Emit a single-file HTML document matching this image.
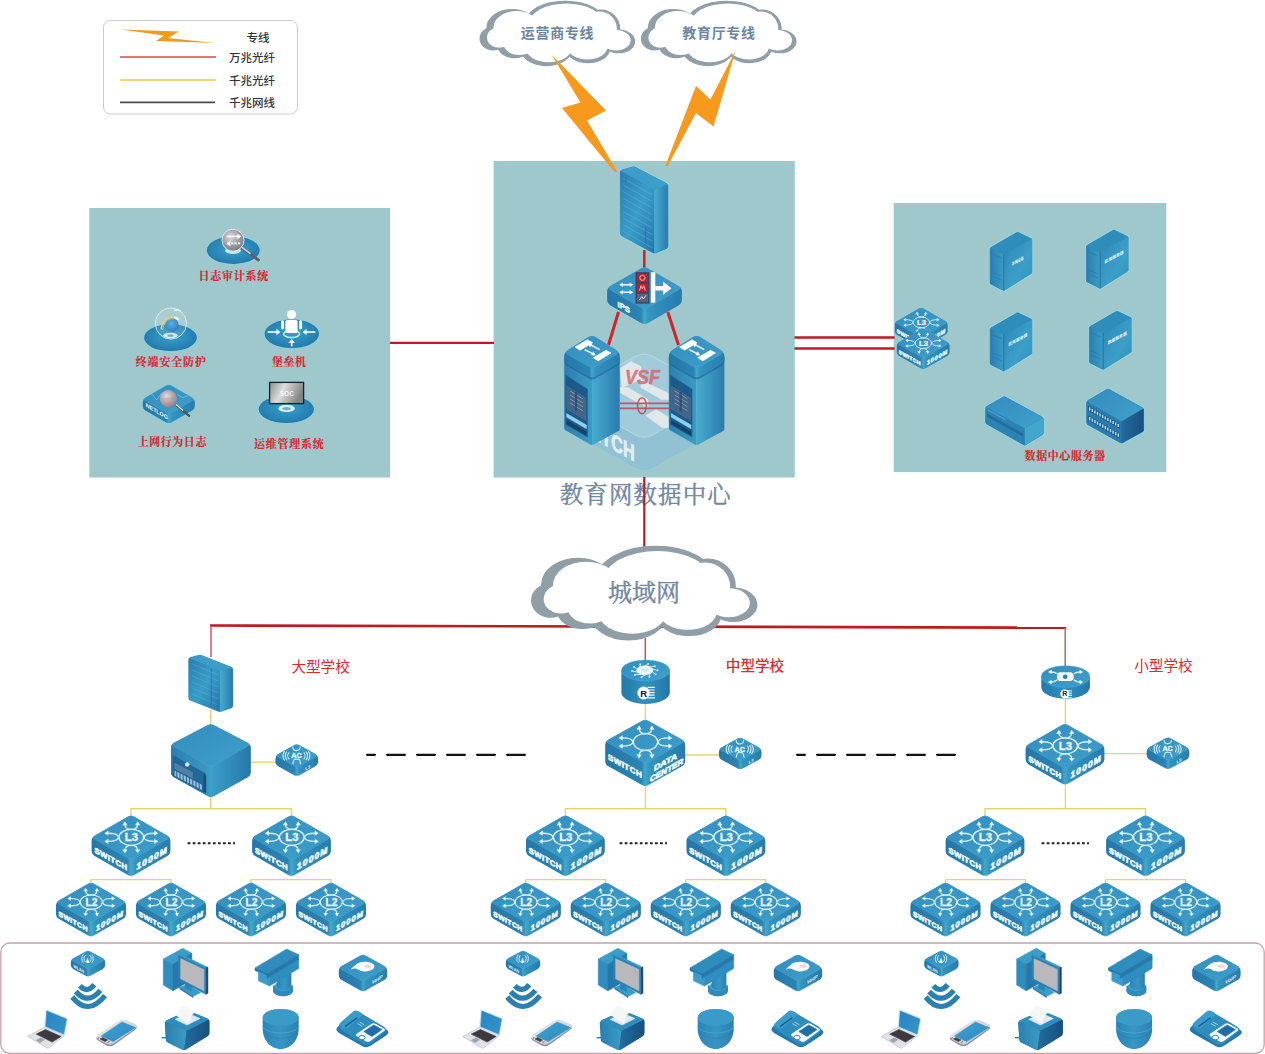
<!DOCTYPE html>
<html lang="zh-CN"><head><meta charset="utf-8"><title>教育网数据中心网络拓扑</title>
<style>html,body{margin:0;padding:0;background:#fff}svg{display:block;font-family:'Liberation Sans', 'Noto Sans CJK SC', sans-serif}.sf{font-family:'Liberation Serif', 'Noto Serif CJK SC', serif;font-weight:bold;fill:#d6242c;stroke:#d6242c;stroke-width:0.18px}.sr{font-family:'Liberation Serif', 'Noto Serif CJK SC', serif;stroke:#71879f;stroke-width:0.4px}</style></head>
<body>
<svg width="1265" height="1054" viewBox="0 0 1265 1054">
<defs><linearGradient id="gs" x1="0" x2="1" y1="0" y2="0"><stop offset="0" stop-color="#2577a8"/><stop offset="0.45" stop-color="#2b84b3"/><stop offset="0.5" stop-color="#43a8cd"/><stop offset="0.56" stop-color="#3393bf"/><stop offset="1" stop-color="#277cad"/></linearGradient><linearGradient id="gt" x1="0" x2="1" y1="0" y2="1"><stop offset="0" stop-color="#338dbf"/><stop offset="1" stop-color="#3f9fca"/></linearGradient><linearGradient id="gl" x1="0" x2="1" y1="0" y2="0"><stop offset="0" stop-color="#2b7eae"/><stop offset="1" stop-color="#3a9cc5"/></linearGradient><linearGradient id="gr" x1="0" x2="1" y1="0" y2="0"><stop offset="0" stop-color="#48abcf"/><stop offset="1" stop-color="#2a7cae"/></linearGradient><linearGradient id="gd" x1="0" x2="1" y1="0" y2="0"><stop offset="0" stop-color="#236c9f"/><stop offset="1" stop-color="#17507f"/></linearGradient><linearGradient id="gf" x1="0" x2="0" y1="0" y2="1"><stop offset="0" stop-color="#2d83b4"/><stop offset="0.5" stop-color="#3a9bc6"/><stop offset="1" stop-color="#2a7db0"/></linearGradient><radialGradient id="ge" cx="0.5" cy="0.45" r="0.6"><stop offset="0" stop-color="#3aa0c8"/><stop offset="0.6" stop-color="#2a88b8"/><stop offset="1" stop-color="#2076a8"/></radialGradient><radialGradient id="gm" cx="0.4" cy="0.35" r="0.7"><stop offset="0" stop-color="#d8d8dc"/><stop offset="0.6" stop-color="#9a9aa2"/><stop offset="1" stop-color="#77777f"/></radialGradient><linearGradient id="gr2" x1="0" x2="1" y1="0" y2="1"><stop offset="0" stop-color="#2c86b6"/><stop offset="0.6" stop-color="#3c9fc8"/><stop offset="1" stop-color="#2f8fbd"/></linearGradient><linearGradient id="gr3" x1="0" x2="1" y1="0" y2="0"><stop offset="0" stop-color="#3b9fc8"/><stop offset="1" stop-color="#2678aa"/></linearGradient><linearGradient id="gfw" x1="0" x2="1" y1="0" y2="1"><stop offset="0" stop-color="#2a7db0"/><stop offset="0.5" stop-color="#3a9cc8"/><stop offset="1" stop-color="#2578ac"/></linearGradient><linearGradient id="gcy" x1="0" x2="1" y1="0" y2="0"><stop offset="0" stop-color="#2478aa"/><stop offset="0.5" stop-color="#3092c0"/><stop offset="1" stop-color="#2377a9"/></linearGradient><radialGradient id="ggl" cx="0.45" cy="0.4" r="0.6"><stop offset="0" stop-color="#4aa6e0"/><stop offset="1" stop-color="#1f6fb8"/></radialGradient><radialGradient id="gm2" cx="0.4" cy="0.35" r="0.7"><stop offset="0" stop-color="#ded8dc"/><stop offset="0.6" stop-color="#b09ea4"/><stop offset="1" stop-color="#8a8088"/></radialGradient><linearGradient id="gsc" x1="0" x2="1" y1="0" y2="0.3"><stop offset="0" stop-color="#8c8c8c"/><stop offset="0.45" stop-color="#dedede"/><stop offset="0.6" stop-color="#c4c4c4"/><stop offset="1" stop-color="#858585"/></linearGradient><linearGradient id="gsv" x1="0" x2="1" y1="0" y2="1"><stop offset="0" stop-color="#f2f2f2"/><stop offset="1" stop-color="#b9bcc0"/></linearGradient><linearGradient id="gph" x1="0" x2="1" y1="0" y2="1"><stop offset="0" stop-color="#3aa0d2"/><stop offset="1" stop-color="#2f8cc2"/></linearGradient><linearGradient id="gph2" x1="0" x2="1" y1="0" y2="1"><stop offset="0" stop-color="#2a84be"/><stop offset="1" stop-color="#3494cc"/></linearGradient><linearGradient id="gdm" x1="0" x2="1" y1="0" y2="0"><stop offset="0" stop-color="#2a84b6"/><stop offset="0.5" stop-color="#3796c4"/><stop offset="1" stop-color="#2a80b2"/></linearGradient></defs>
<rect width="1265" height="1054" fill="#fff"/>
<rect x="89.3" y="208" width="300.7" height="269.5" fill="#9fc8cd"/><rect x="493.6" y="161" width="301.2" height="316.5" fill="#9fc8cd"/><rect x="893.7" y="203" width="272.6" height="269.1" fill="#9fc8cd"/><rect x="103.5" y="20.5" width="194" height="93.5" rx="7" fill="#fff" stroke="#c9ccce" stroke-width="1"/><polygon points="121,29.5 179,31.5 168,38 215,43 156,41 164,35.5" fill="#f39a1e"/><line x1="120" y1="57" x2="216" y2="57" stroke="#e0444c" stroke-width="1.6"/><line x1="120" y1="80" x2="216" y2="80" stroke="#efd27a" stroke-width="1.8"/><line x1="120" y1="102.3" x2="215" y2="102.3" stroke="#4a4a4a" stroke-width="1.8"/><text x="258" y="41.5" font-size="11.5" fill="#333" font-weight="500" text-anchor="middle">专线</text><text x="252" y="62" font-size="11.5" fill="#333" font-weight="500" text-anchor="middle">万兆光纤</text><text x="252" y="84.5" font-size="11.5" fill="#333" font-weight="500" text-anchor="middle">千兆光纤</text><text x="252" y="107" font-size="11.5" fill="#333" font-weight="500" text-anchor="middle">千兆网线</text><g stroke="#c01a20" fill="none"><line x1="390" y1="342.8" x2="494" y2="342.8" stroke-width="2.3"/><line x1="794.5" y1="337.5" x2="894.6" y2="337.5" stroke-width="2.3"/><line x1="794.5" y1="348.5" x2="894.6" y2="348.5" stroke-width="2.3"/><line x1="644.3" y1="250" x2="644.3" y2="270" stroke-width="2.6" stroke="#d3222a"/><line x1="618.5" y1="312" x2="608.5" y2="345" stroke-width="3" stroke="#d3222a"/><line x1="667.8" y1="312" x2="678.5" y2="345" stroke-width="3" stroke="#d3222a"/><line x1="210" y1="625.5" x2="1066.2" y2="627.7" stroke-width="2.7"/><line x1="211" y1="626" x2="211" y2="657" stroke-width="1.5" stroke="#d2566a"/><line x1="1065.2" y1="628" x2="1065.2" y2="668" stroke-width="1.5" stroke="#b06a6c"/><line x1="645.3" y1="638" x2="645.3" y2="662" stroke-width="1.5" stroke="#cf4a55"/></g>
<g transform="translate(480.1,1.3) scale(0.99,0.98)"><g fill="#8f9ea7" stroke="#8f9ea7" stroke-width="1.2"><ellipse cx="13" cy="38" rx="13" ry="11.5"/><ellipse cx="32" cy="27" rx="25" ry="18.5"/><ellipse cx="86" cy="22" rx="40" ry="22"/><ellipse cx="122" cy="28" rx="19" ry="19"/><ellipse cx="140" cy="41" rx="16" ry="11.5"/><ellipse cx="109" cy="48" rx="22" ry="14.5"/><ellipse cx="67" cy="48" rx="26" ry="17.6"/><ellipse cx="35" cy="45" rx="17" ry="12.5"/><ellipse cx="78" cy="33" rx="55" ry="22"/></g><g transform="translate(7,2.2) scale(0.93,0.915)" fill="#fff"><ellipse cx="13" cy="38" rx="13" ry="11.5"/><ellipse cx="32" cy="27" rx="25" ry="18.5"/><ellipse cx="86" cy="22" rx="40" ry="22"/><ellipse cx="122" cy="28" rx="19" ry="19"/><ellipse cx="140" cy="41" rx="16" ry="11.5"/><ellipse cx="109" cy="48" rx="22" ry="14.5"/><ellipse cx="67" cy="48" rx="26" ry="17.6"/><ellipse cx="35" cy="45" rx="17" ry="12.5"/><ellipse cx="78" cy="33" rx="55" ry="22"/></g></g><text x="557.6" y="38.3" font-size="13.9" fill="#6b84a3" font-weight="700" text-anchor="middle" letter-spacing="0.8">运营商专线</text>
<g transform="translate(641.5,1.3) scale(0.99,0.98)"><g fill="#8f9ea7" stroke="#8f9ea7" stroke-width="1.2"><ellipse cx="13" cy="38" rx="13" ry="11.5"/><ellipse cx="32" cy="27" rx="25" ry="18.5"/><ellipse cx="86" cy="22" rx="40" ry="22"/><ellipse cx="122" cy="28" rx="19" ry="19"/><ellipse cx="140" cy="41" rx="16" ry="11.5"/><ellipse cx="109" cy="48" rx="22" ry="14.5"/><ellipse cx="67" cy="48" rx="26" ry="17.6"/><ellipse cx="35" cy="45" rx="17" ry="12.5"/><ellipse cx="78" cy="33" rx="55" ry="22"/></g><g transform="translate(7,2.2) scale(0.93,0.915)" fill="#fff"><ellipse cx="13" cy="38" rx="13" ry="11.5"/><ellipse cx="32" cy="27" rx="25" ry="18.5"/><ellipse cx="86" cy="22" rx="40" ry="22"/><ellipse cx="122" cy="28" rx="19" ry="19"/><ellipse cx="140" cy="41" rx="16" ry="11.5"/><ellipse cx="109" cy="48" rx="22" ry="14.5"/><ellipse cx="67" cy="48" rx="26" ry="17.6"/><ellipse cx="35" cy="45" rx="17" ry="12.5"/><ellipse cx="78" cy="33" rx="55" ry="22"/></g></g><text x="719" y="38.3" font-size="13.9" fill="#6b84a3" font-weight="700" text-anchor="middle" letter-spacing="0.8">教育厅专线</text>
<polygon points="551.5,54.5 606,110.5 587,120.5 617.5,172 614.5,172 562,108 580.5,102.5" fill="#f7991c"/><polygon points="735.5,51 713.5,126.5 696,113 667.5,166.5 665.5,165.5 696,86 710.5,99.5" fill="#f7991c"/>
<text class="sr" x="645.2" y="503" font-size="23.4" fill="#71879f" text-anchor="middle" textLength="171" lengthAdjust="spacing">教育网数据中心</text>
<line x1="644.3" y1="477" x2="644.3" y2="550" stroke="#c01a20" stroke-width="2.2"/><g transform="translate(531.9,546.5) scale(1.44,1.42)"><g fill="#8f9ea7" stroke="#8f9ea7" stroke-width="1.2"><ellipse cx="13" cy="38" rx="13" ry="11.5"/><ellipse cx="32" cy="27" rx="25" ry="18.5"/><ellipse cx="86" cy="22" rx="40" ry="22"/><ellipse cx="122" cy="28" rx="19" ry="19"/><ellipse cx="140" cy="41" rx="16" ry="11.5"/><ellipse cx="109" cy="48" rx="22" ry="14.5"/><ellipse cx="67" cy="48" rx="26" ry="17.6"/><ellipse cx="35" cy="45" rx="17" ry="12.5"/><ellipse cx="78" cy="33" rx="55" ry="22"/></g><g transform="translate(8.2,3.2) scale(0.918,0.888)" fill="#fff"><ellipse cx="13" cy="38" rx="13" ry="11.5"/><ellipse cx="32" cy="27" rx="25" ry="18.5"/><ellipse cx="86" cy="22" rx="40" ry="22"/><ellipse cx="122" cy="28" rx="19" ry="19"/><ellipse cx="140" cy="41" rx="16" ry="11.5"/><ellipse cx="109" cy="48" rx="22" ry="14.5"/><ellipse cx="67" cy="48" rx="26" ry="17.6"/><ellipse cx="35" cy="45" rx="17" ry="12.5"/><ellipse cx="78" cy="33" rx="55" ry="22"/></g></g><text x="643.9" y="601" font-size="24" fill="#71879f" font-weight="400" text-anchor="middle" letter-spacing="0" class="sr">城域网</text>
<g transform="translate(644,351.6)"><path d="M-8.74,4.87Q0,0 8.74,4.87L70.26,39.13Q79,44 79,54L79,67Q79,77 70.26,81.87L8.74,116.13Q0,121 -8.74,116.13L-70.26,81.87Q-79,77 -79,67L-79,54Q-79,44 -70.26,39.13Z" fill="#7fb9dc" opacity="0.42"/><path d="M-8.74,4.87Q0,0 8.74,4.87L70.26,39.13Q79,44 70.26,48.87L8.74,83.13Q0,88 -8.74,83.13L-70.26,48.87Q-79,44 -70.26,39.13Z" fill="#b9d9e8" stroke="#dcedf3" stroke-width="1.2" opacity="0.42"/><g fill="#fbf3f1" opacity="0.72"><polygon points="-24,17 -13,10 -3,15 -3,28 -22,36" fill="#fbf3f1" stroke="#fbf3f1" stroke-width="0.6" stroke-linejoin="round"/><polygon points="-3,28 4,32 25,42 25,48 18,48 -3,36" fill="#fbf3f1" stroke="#fbf3f1" stroke-width="0.6" stroke-linejoin="round"/><polygon points="-24,36 -16,36 4,48 4,56 -4,52 -24,41" fill="#fbf3f1" stroke="#fbf3f1" stroke-width="0.6" stroke-linejoin="round"/><polygon points="2,64 12,58 25,66 25,76 18,76" fill="#fbf3f1" stroke="#fbf3f1" stroke-width="0.6" stroke-linejoin="round"/></g></g><text transform="translate(570.8,426.3) skewY(29)" font-size="23" font-weight="bold" fill="#f4f8fa" stroke="#f4f8fa" stroke-width="0.8" opacity="0.82" textLength="63.8" lengthAdjust="spacingAndGlyphs">SWITCH</text><text x="642.4" y="383.8" font-size="20.5" font-weight="bold" font-style="italic" fill="#d9666f" stroke="#d9666f" stroke-width="0.5" opacity="0.85" text-anchor="middle" textLength="35" lengthAdjust="spacingAndGlyphs">VSF</text><g stroke="#bb4f5b" fill="none" opacity="0.9"><line x1="620" y1="403.3" x2="669" y2="403.3" stroke-width="1.8"/><line x1="620" y1="408.3" x2="669" y2="408.3" stroke-width="1.8"/><ellipse cx="642" cy="405.8" rx="4.4" ry="8" stroke-width="1.6"/></g>
<g transform="translate(620.3,166.5)"><path d="M0,5Q0,4 0.96,3.72L12.74,0.28Q13.7,0 14.59,0.46L46.71,17.24Q47.6,17.7 47.6,18.7L47.6,80.4Q47.6,81.4 46.67,81.78L34.83,86.62Q33.9,87 33.02,86.52L0.88,68.98Q0,68.5 0,67.5Z" fill="none" stroke="#8fdcee" stroke-width="3" stroke-opacity="0.5" stroke-linejoin="round"/><path d="M0,6Q0,4 1.92,3.44L11.78,0.56Q13.7,0 15.47,0.93L45.83,16.77Q47.6,17.7 47.6,19.7L47.6,79.4Q47.6,81.4 45.75,82.16L35.75,86.24Q33.9,87 32.14,86.04L1.76,69.46Q0,68.5 0,66.5Z" fill="url(#gfw)" stroke="url(#gfw)" stroke-width="0.7"/><path d="M0,5Q0,4 0.87,4.49L33.03,22.81Q33.9,23.3 33.9,24.3L33.9,86Q33.9,87 33.02,86.52L0.88,68.98Q0,68.5 0,67.5Z" fill="url(#gfw)"/><path d="M33.9,24.3Q33.9,23.3 34.83,22.92L46.67,18.08Q47.6,17.7 47.6,18.7L47.6,80.4Q47.6,81.4 46.67,81.78L34.83,86.62Q33.9,87 33.9,86Z" fill="url(#gr)"/><path d="M0.87,4.49Q0,4 0.96,3.72L12.74,0.28Q13.7,0 14.59,0.46L46.71,17.24Q47.6,17.7 46.67,18.08L34.83,22.92Q33.9,23.3 33.03,22.81Z" fill="#3b9dc8"/><g stroke="#5fb6d8" stroke-width="0.9" opacity="0.55"><line x1="3" y1="12" x2="31.5" y2="28.2"/><line x1="3" y1="18.6" x2="31.5" y2="34.8"/><line x1="3" y1="25.2" x2="31.5" y2="41.4"/><line x1="3" y1="31.8" x2="31.5" y2="48"/><line x1="3" y1="38.4" x2="31.5" y2="54.6"/><line x1="3" y1="45" x2="31.5" y2="61.2"/><line x1="3" y1="51.6" x2="31.5" y2="67.8"/><line x1="3" y1="58.2" x2="31.5" y2="74.4"/><line x1="3" y1="64.8" x2="31.5" y2="81"/></g><path d="M5.5,9 L5.5,15 M25.5,60 L25.5,78" stroke="#2474a6" stroke-width="1" opacity="0.8"/></g><g transform="translate(644.5,266.6)"><path d="M-3.47,1.99Q0,0 3.47,1.99L33.93,19.41Q37.4,21.4 37.4,25.4L37.4,33Q37.4,37 33.93,38.99L3.47,56.41Q0,58.4 -3.47,56.41L-33.93,38.99Q-37.4,37 -37.4,33L-37.4,25.4Q-37.4,21.4 -33.93,19.41Z" fill="url(#gs)"/><path d="M-3.47,1.99Q0,0 3.47,1.99L33.93,19.41Q37.4,21.4 33.93,23.39L3.47,40.81Q0,42.8 -3.47,40.81L-33.93,23.39Q-37.4,21.4 -33.93,19.41Z" fill="url(#gt)" stroke="#56b0d2" stroke-width="0.6" stroke-opacity="0.55"/><g stroke="#f4fafc" stroke-width="1.5" fill="#f4fafc"><line x1="-22.5" y1="18.2" x2="-14" y2="18.2"/><polygon points="-25.3,18.2 -21.6,16.0 -21.6,20.4" stroke="none"/><polygon points="-11.2,18.2 -14.9,16.0 -14.9,20.4" stroke="none"/><line x1="-22.5" y1="25.6" x2="-14" y2="25.6"/><polygon points="-25.3,25.6 -21.6,23.400000000000002 -21.6,27.8" stroke="none"/><polygon points="-11.2,25.6 -14.9,23.400000000000002 -14.9,27.8" stroke="none"/></g><rect x="-9" y="5.6" width="13.8" height="31.4" fill="#3a3f5c"/><rect x="-7.8" y="6.8" width="11.4" height="8.8" fill="#b5232e"/><rect x="-7.8" y="16.9" width="11.4" height="8.8" fill="#b5232e"/><rect x="-7.8" y="27" width="11.4" height="8.8" fill="#56607f"/><circle cx="-2.1" cy="11.2" r="2.6" fill="none" stroke="#f3b9bd" stroke-width="1"/><path d="M-5,24 L-3.4,19 L-2.1,22.4 L-0.8,19 L0.8,24" fill="none" stroke="#f3b9bd" stroke-width="1"/><path d="M-5.4,33.6 L-2.6,30 L-1.2,32.4 L1.6,28.6" fill="none" stroke="#e6ebf2" stroke-width="0.9"/><rect x="6.4" y="5.6" width="4.4" height="30.4" fill="#fbfdfe"/><polygon points="10.8,19.4 18.6,19.4 18.6,15 27,21.6 18.6,28.2 18.6,23.8 10.8,23.8" fill="#fbfdfe"/><text transform="translate(-27,39.8) skewY(29.5)" font-size="7.4" font-weight="bold" fill="#f4fafc" stroke="#f4fafc" stroke-width="0.4" textLength="12.5" lengthAdjust="spacingAndGlyphs">IPS</text></g><g transform="translate(592,334.9)"><path d="M-27.8,23.5Q-27.8,22 -26.54,22.82L-1.26,39.18Q0,40 0,41.5L0,109Q0,110.5 -1.3,109.75L-26.5,95.25Q-27.8,94.5 -27.8,93Z" fill="url(#gl)"/><path d="M0,41.5Q0,40 1.26,39.18L26.54,22.82Q27.8,22 27.8,23.5L27.8,94Q27.8,95.5 26.48,96.21L1.32,109.79Q0,110.5 0,109Z" fill="url(#gr)"/><polygon points="-26.2,40.5 -4.6,54.3 -4.6,102 -26.2,89.5" fill="#1d5a8c" stroke="#1d5a8c" stroke-width="0.6" stroke-linejoin="round"/><polygon points="-25,51.5 -6.4,63.2 -6.4,85 -25,74" fill="#6a7f99" stroke="#6a7f99" stroke-width="0.6" stroke-linejoin="round"/><polygon points="-25,51.5 -6.4,63.2 -6.4,85 -25,74" fill="#16446f" opacity="0.45"/><path d="M-22,56 L-9,64 M-22,60 L-9,68 M-22,64 L-9,72 M-22,68 L-9,76" stroke="#9fb6c9" stroke-width="0.9" opacity="0.7"/><path d="M-16,57 L-16,76" stroke="#173f66" stroke-width="2.2" opacity="0.6"/><polygon points="-25.4,78.6 -5.6,90.2 -5.6,93.8 -25.4,82.2" fill="#8fd0ee" stroke="#8fd0ee" stroke-width="0.6" stroke-linejoin="round"/><polygon points="-25.4,85 -5.6,96.6 -5.6,100.6 -25.4,89" fill="#153b63" opacity="0.8"/><path d="M-3.38,2.14Q0,0 3.38,2.14L24.42,15.46Q27.8,17.6 27.8,21.6L27.8,23.5Q27.8,27.5 24.34,29.5L3.46,41.6Q0,43.6 -3.46,41.6L-24.34,29.5Q-27.8,27.5 -27.8,23.5L-27.8,21.6Q-27.8,17.6 -24.42,15.46Z" fill="#1d6494" opacity="0.6" transform="translate(0,2)"/><path d="M-3.8,2.41Q0,0 3.8,2.41L24,15.19Q27.8,17.6 27.8,22.1L27.8,23Q27.8,27.5 23.91,29.76L3.89,41.34Q0,43.6 -3.89,41.34L-23.91,29.76Q-27.8,27.5 -27.8,23L-27.8,22.1Q-27.8,17.6 -24,15.19Z" fill="url(#gs)"/><path d="M-3.8,2.41Q0,0 3.8,2.41L24,15.19Q27.8,17.6 23.9,19.84L3.9,31.36Q0,33.6 -3.9,31.36L-23.9,19.84Q-27.8,17.6 -24,15.19Z" fill="url(#gt)" stroke="#56b0d2" stroke-width="0.6" stroke-opacity="0.5"/><polygon points="-17,12.2 -4.6,4.8 0.6,7.8 -12,15.4" fill="#fbfdfe" stroke="#fbfdfe" stroke-width="0.6" stroke-linejoin="round"/><polygon points="1.2,22.8 14,15.4 19,18 6.2,26" fill="#fbfdfe" stroke="#fbfdfe" stroke-width="0.6" stroke-linejoin="round"/><path d="M-1.2,10 L7.6,14.8 M-7.4,14.8 L0.6,18.8" fill="none" stroke="#fbfdfe" stroke-width="1.5"/><polygon points="3.6,20.6 -1,20.4 1.4,16.4" fill="#fbfdfe"/><polygon points="-4.2,8.4 0.4,8.6 -2,12.6" fill="#fbfdfe"/></g><g transform="translate(696.6,334.9)"><path d="M-27.8,23.5Q-27.8,22 -26.54,22.82L-1.26,39.18Q0,40 0,41.5L0,109Q0,110.5 -1.3,109.75L-26.5,95.25Q-27.8,94.5 -27.8,93Z" fill="url(#gl)"/><path d="M0,41.5Q0,40 1.26,39.18L26.54,22.82Q27.8,22 27.8,23.5L27.8,94Q27.8,95.5 26.48,96.21L1.32,109.79Q0,110.5 0,109Z" fill="url(#gr)"/><polygon points="-26.2,40.5 -4.6,54.3 -4.6,102 -26.2,89.5" fill="#1d5a8c" stroke="#1d5a8c" stroke-width="0.6" stroke-linejoin="round"/><polygon points="-25,51.5 -6.4,63.2 -6.4,85 -25,74" fill="#6a7f99" stroke="#6a7f99" stroke-width="0.6" stroke-linejoin="round"/><polygon points="-25,51.5 -6.4,63.2 -6.4,85 -25,74" fill="#16446f" opacity="0.45"/><path d="M-22,56 L-9,64 M-22,60 L-9,68 M-22,64 L-9,72 M-22,68 L-9,76" stroke="#9fb6c9" stroke-width="0.9" opacity="0.7"/><path d="M-16,57 L-16,76" stroke="#173f66" stroke-width="2.2" opacity="0.6"/><polygon points="-25.4,78.6 -5.6,90.2 -5.6,93.8 -25.4,82.2" fill="#8fd0ee" stroke="#8fd0ee" stroke-width="0.6" stroke-linejoin="round"/><polygon points="-25.4,85 -5.6,96.6 -5.6,100.6 -25.4,89" fill="#153b63" opacity="0.8"/><path d="M-3.38,2.14Q0,0 3.38,2.14L24.42,15.46Q27.8,17.6 27.8,21.6L27.8,23.5Q27.8,27.5 24.34,29.5L3.46,41.6Q0,43.6 -3.46,41.6L-24.34,29.5Q-27.8,27.5 -27.8,23.5L-27.8,21.6Q-27.8,17.6 -24.42,15.46Z" fill="#1d6494" opacity="0.6" transform="translate(0,2)"/><path d="M-3.8,2.41Q0,0 3.8,2.41L24,15.19Q27.8,17.6 27.8,22.1L27.8,23Q27.8,27.5 23.91,29.76L3.89,41.34Q0,43.6 -3.89,41.34L-23.91,29.76Q-27.8,27.5 -27.8,23L-27.8,22.1Q-27.8,17.6 -24,15.19Z" fill="url(#gs)"/><path d="M-3.8,2.41Q0,0 3.8,2.41L24,15.19Q27.8,17.6 23.9,19.84L3.9,31.36Q0,33.6 -3.9,31.36L-23.9,19.84Q-27.8,17.6 -24,15.19Z" fill="url(#gt)" stroke="#56b0d2" stroke-width="0.6" stroke-opacity="0.5"/><polygon points="-17,12.2 -4.6,4.8 0.6,7.8 -12,15.4" fill="#fbfdfe" stroke="#fbfdfe" stroke-width="0.6" stroke-linejoin="round"/><polygon points="1.2,22.8 14,15.4 19,18 6.2,26" fill="#fbfdfe" stroke="#fbfdfe" stroke-width="0.6" stroke-linejoin="round"/><path d="M-1.2,10 L7.6,14.8 M-7.4,14.8 L0.6,18.8" fill="none" stroke="#fbfdfe" stroke-width="1.5"/><polygon points="3.6,20.6 -1,20.4 1.4,16.4" fill="#fbfdfe"/><polygon points="-4.2,8.4 0.4,8.6 -2,12.6" fill="#fbfdfe"/></g>
<ellipse cx="233.3" cy="250.2" rx="27.4" ry="14.7" fill="#7fd3ea" opacity="0.5"/><ellipse cx="233.3" cy="250.2" rx="26.4" ry="13.7" fill="url(#ge)"/><ellipse cx="233" cy="250.6" rx="8" ry="3.4" fill="#b9ecf7"/><line x1="242" y1="248" x2="258.4" y2="260" stroke="#5a5f68" stroke-width="2.8" stroke-linecap="round"/><line x1="242" y1="247.4" x2="250" y2="253.4" stroke="#c9d4dc" stroke-width="1.6" stroke-linecap="round"/><circle cx="233" cy="240.2" r="11" fill="url(#gm)" stroke="#e8eef2" stroke-width="0.9"/><g stroke="#fbfdfe" stroke-width="1.6" fill="#fbfdfe"><line x1="226.6" y1="236.4" x2="237.6" y2="236.4"/><polygon points="241.4,236.4 237.4,233.6 237.4,239.2" stroke="none"/><line x1="231" y1="243.4" x2="240.4" y2="243.4" stroke-dasharray="2.2 1.3"/><polygon points="226.4,243.4 230.4,240.6 230.4,246.2" stroke="none"/></g><ellipse cx="170.5" cy="337.7" rx="27.4" ry="14.4" fill="#7fd3ea" opacity="0.5"/><ellipse cx="170.5" cy="337.7" rx="26.4" ry="13.4" fill="url(#ge)"/><ellipse cx="170.4" cy="335.6" rx="7.4" ry="2.8" fill="#d9f3fa" opacity="0.9"/><rect x="167.4" y="334.4" width="6" height="2.4" rx="1" fill="#6f9fb8"/><circle cx="172" cy="325" r="6.8" fill="url(#ggl)"/><path d="M161.4,329.6 C161.6,322 166,316.6 174.2,317.2" fill="none" stroke="#e9c766" stroke-width="1.6"/><path d="M162.8,330 C163,323.2 166.8,318.4 174,318.8" fill="none" stroke="#7fcf8a" stroke-width="1"/><path d="M174,317.4 C176,317.6 177.4,318.4 178.6,319.8" fill="none" stroke="#fff" stroke-width="2"/><circle cx="170.9" cy="323.5" r="15.6" fill="#fff" fill-opacity="0.1" stroke="#e4f3f8" stroke-width="0.8"/><path d="M174,310.4 C177,309.4 179.6,309.8 181,311.2" fill="none" stroke="#f4fafc" stroke-width="1.2"/><ellipse cx="291.8" cy="333.8" rx="28.2" ry="15.3" fill="#7fd3ea" opacity="0.5"/><ellipse cx="291.8" cy="333.8" rx="27.2" ry="14.3" fill="url(#ge)"/><ellipse cx="291.6" cy="334" rx="8" ry="3.6" fill="none" stroke="#b9ecf7" stroke-width="1.6"/><g fill="#fbfdfe"><circle cx="291.6" cy="314.6" r="4.6"/><rect x="285.4" y="320" width="12.2" height="13" rx="1.6"/><rect x="281.2" y="320.2" width="2.9" height="9.2" rx="1.4"/><rect x="299.2" y="320.2" width="2.9" height="9.2" rx="1.4"/></g><g stroke="#e9f8fd" stroke-width="1.7" fill="#e9f8fd"><line x1="267.6" y1="332" x2="277" y2="332"/><polygon points="280.4,332 276.4,328.8 276.4,335.2" stroke="none"/><line x1="315.4" y1="332" x2="306" y2="332"/><polygon points="302.6,332 306.6,328.8 306.6,335.2" stroke="none"/><line x1="291.7" y1="346.4" x2="291.7" y2="342.4"/><polygon points="291.7,339 288.4,343 295,343" stroke="none"/></g><g transform="translate(168.8,384.2)"><path d="M-3.47,0.98Q0,-1 3.47,0.98L23.53,12.42Q27,14.4 27,18.4L27,21.5Q27,25.5 23.53,27.49L3.47,39.01Q0,41 -3.47,39.01L-23.53,27.49Q-27,25.5 -27,21.5L-27,18.4Q-27,14.4 -23.53,12.42Z" fill="#7fd3ea" opacity="0.45"/><path d="M-3.03,1.75Q0,0 3.03,1.75L22.97,13.25Q26,15 26,18.5L26,21.2Q26,24.7 22.97,26.45L3.03,37.95Q0,39.7 -3.03,37.95L-22.97,26.45Q-26,24.7 -26,21.2L-26,18.5Q-26,15 -22.97,13.25Z" fill="url(#gs)"/><path d="M-3.03,1.75Q0,0 3.03,1.75L22.97,13.25Q26,15 22.97,16.75L3.03,28.25Q0,30 -3.03,28.25L-22.97,16.75Q-26,15 -22.97,13.25Z" fill="url(#gt)" stroke="#56b0d2" stroke-width="0.6" stroke-opacity="0.55"/><path d="M-17,10 L-12,15.6 L-7.6,9.4 M8,10.2 L14,13.4 L19,11.4" fill="none" stroke="#8fd0e6" stroke-width="0.7" opacity="0.8"/><text transform="translate(-23,22.6) skewY(30)" font-size="5.6" font-weight="bold" fill="#f2f9fc" textLength="22" lengthAdjust="spacingAndGlyphs">NETLOG</text><line x1="8" y1="21.4" x2="20.4" y2="31.6" stroke="#4c525c" stroke-width="2.2" stroke-linecap="round"/><line x1="7.6" y1="20.6" x2="14" y2="26" stroke="#d8e2e8" stroke-width="1.3" stroke-linecap="round"/><circle cx="-0.4" cy="14.4" r="8.6" fill="url(#gm2)"/><path d="M-8.6,14.6 C-4,15.4 4,14.6 8,13.4" stroke="#a89aa0" stroke-width="0.6" fill="none"/></g><ellipse cx="286.3" cy="409.3" rx="28.6" ry="14.8" fill="#7fd3ea" opacity="0.5"/><ellipse cx="286.3" cy="409.3" rx="27.6" ry="13.8" fill="url(#ge)"/><ellipse cx="286.6" cy="408.4" rx="8.2" ry="3.6" fill="#d4f3fb"/><ellipse cx="286.6" cy="408.6" rx="4.4" ry="1.6" fill="#7fa9bd"/><rect x="269.6" y="382.4" width="34" height="21.2" fill="url(#gsc)" stroke="#16242f" stroke-width="1.3"/><text x="286.8" y="395.6" font-size="6.6" font-weight="bold" fill="#fbfbfb" text-anchor="middle" opacity="0.9">SOC</text>
<g class="sf"><text x="233.4" y="279.6" font-size="10.9" text-anchor="middle" textLength="69.6" lengthAdjust="spacing">日志审计系统</text><text x="170.8" y="365.8" font-size="10.9" text-anchor="middle" textLength="70" lengthAdjust="spacing">终端安全防护</text><text x="288.9" y="365.8" font-size="10.9" text-anchor="middle" textLength="33.8" lengthAdjust="spacing">堡垒机</text><text x="172" y="445.8" font-size="10.9" text-anchor="middle" textLength="68.6" lengthAdjust="spacing">上网行为日志</text><text x="288.8" y="447.8" font-size="10.9" text-anchor="middle" textLength="69.6" lengthAdjust="spacing">运维管理系统</text><text x="1064.8" y="459.6" font-size="10.9" text-anchor="middle" textLength="80.4" lengthAdjust="spacing">数据中心服务器</text></g>
<g transform="translate(921.2,307.4) scale(0.67)"><g><path d="M-3.12,1.79Q0,0 3.12,1.79L36.28,20.81Q39.4,22.6 39.4,26.2L39.4,35.6Q39.4,39.2 36.28,40.99L3.12,60.01Q0,61.8 -3.12,60.01L-36.28,40.99Q-39.4,39.2 -39.4,35.6L-39.4,26.2Q-39.4,22.6 -36.28,20.81Z" fill="url(#gs)"/><path d="M-3.12,1.79Q0,0 3.12,1.79L36.28,20.81Q39.4,22.6 36.28,24.39L3.12,43.41Q0,45.2 -3.12,43.41L-36.28,24.39Q-39.4,22.6 -36.28,20.81Z" fill="url(#gt)" stroke="#56b0d2" stroke-width="0.6" stroke-opacity="0.55"/><g fill="none" stroke="#dcf4fc" stroke-width="1.35" stroke-linecap="round"><ellipse cx="0.3" cy="22.4" rx="12.3" ry="8"/><path d="M-6.1,9 C-6.1,12.9 -3.2,14.4 0.3,14.4 C3.8,14.4 6.7,12.9 6.7,9"/><path d="M-6.1,35.8 C-6.1,31.9 -3.2,30.4 0.3,30.4 C3.8,30.4 6.7,31.9 6.7,35.8"/><path d="M-23.5,18.3 C-16,18.3 -12.5,20.2 -12.5,22.4 C-12.5,24.6 -16,26.5 -23.5,26.5"/><path d="M24.1,18.3 C16.6,18.3 13.1,20.2 13.1,22.4 C13.1,24.6 16.6,26.5 24.1,26.5"/></g><g fill="#e4f7fd"><polygon points="-6.1,6.4 -3.5,10.3 -8.7,10.3"/><polygon points="6.7,6.4 9.3,10.3 4.1,10.3"/><polygon points="-6.1,38.4 -8.7,34.5 -3.5,34.5"/><polygon points="6.7,38.4 4.1,34.5 9.3,34.5"/><polygon points="-26.6,18.3 -22.7,15.7 -22.7,20.9"/><polygon points="-26.6,26.5 -22.7,23.9 -22.7,29.1"/><polygon points="27.2,18.3 23.3,20.9 23.3,15.7"/><polygon points="27.2,26.5 23.3,29.1 23.3,23.9"/></g><g fill="#f2f9fc" stroke="#f2f9fc" stroke-width="0.65" font-weight="bold" font-size="7.7"><text transform="translate(-36.6,37.6) skewY(29.1)" textLength="32.6" lengthAdjust="spacing">SWITCH</text><text transform="translate(5.2,55) skewY(-29.1) skewX(-5)" font-size="8.6" textLength="30.6" lengthAdjust="spacing">1000M</text></g></g><text x="0.4" y="26.4" font-size="11.4" font-weight="bold" fill="#f2f9fc" stroke="#f2f9fc" stroke-width="0.3" text-anchor="middle">L3</text></g><g transform="translate(923.2,328.2) scale(0.67)"><g><path d="M-3.12,1.79Q0,0 3.12,1.79L36.28,20.81Q39.4,22.6 39.4,26.2L39.4,35.6Q39.4,39.2 36.28,40.99L3.12,60.01Q0,61.8 -3.12,60.01L-36.28,40.99Q-39.4,39.2 -39.4,35.6L-39.4,26.2Q-39.4,22.6 -36.28,20.81Z" fill="url(#gs)"/><path d="M-3.12,1.79Q0,0 3.12,1.79L36.28,20.81Q39.4,22.6 36.28,24.39L3.12,43.41Q0,45.2 -3.12,43.41L-36.28,24.39Q-39.4,22.6 -36.28,20.81Z" fill="url(#gt)" stroke="#56b0d2" stroke-width="0.6" stroke-opacity="0.55"/><g fill="none" stroke="#dcf4fc" stroke-width="1.35" stroke-linecap="round"><ellipse cx="0.3" cy="22.4" rx="12.3" ry="8"/><path d="M-6.1,9 C-6.1,12.9 -3.2,14.4 0.3,14.4 C3.8,14.4 6.7,12.9 6.7,9"/><path d="M-6.1,35.8 C-6.1,31.9 -3.2,30.4 0.3,30.4 C3.8,30.4 6.7,31.9 6.7,35.8"/><path d="M-23.5,18.3 C-16,18.3 -12.5,20.2 -12.5,22.4 C-12.5,24.6 -16,26.5 -23.5,26.5"/><path d="M24.1,18.3 C16.6,18.3 13.1,20.2 13.1,22.4 C13.1,24.6 16.6,26.5 24.1,26.5"/></g><g fill="#e4f7fd"><polygon points="-6.1,6.4 -3.5,10.3 -8.7,10.3"/><polygon points="6.7,6.4 9.3,10.3 4.1,10.3"/><polygon points="-6.1,38.4 -8.7,34.5 -3.5,34.5"/><polygon points="6.7,38.4 4.1,34.5 9.3,34.5"/><polygon points="-26.6,18.3 -22.7,15.7 -22.7,20.9"/><polygon points="-26.6,26.5 -22.7,23.9 -22.7,29.1"/><polygon points="27.2,18.3 23.3,20.9 23.3,15.7"/><polygon points="27.2,26.5 23.3,29.1 23.3,23.9"/></g><g fill="#f2f9fc" stroke="#f2f9fc" stroke-width="0.65" font-weight="bold" font-size="7.7"><text transform="translate(-36.6,37.6) skewY(29.1)" textLength="32.6" lengthAdjust="spacing">SWITCH</text><text transform="translate(5.2,55) skewY(-29.1) skewX(-5)" font-size="8.6" textLength="30.6" lengthAdjust="spacing">1000M</text></g></g><text x="0.4" y="26.4" font-size="11.4" font-weight="bold" fill="#f2f9fc" stroke="#f2f9fc" stroke-width="0.3" text-anchor="middle">L3</text></g><g transform="translate(990.2,232.1)"><g><path d="M0,16.9Q0,15.9 0.86,15.4L26.44,0.5Q27.3,0 28.2,0.43L40.8,6.47Q41.7,6.9 41.7,7.9L41.7,40Q41.7,41 40.85,41.53L14.45,57.97Q13.6,58.5 12.71,58.05L0.89,52.05Q0,51.6 0,50.6Z" fill="none" stroke="#8fdcee" stroke-width="3" stroke-opacity="0.5" stroke-linejoin="round"/><path d="M0,16.7Q0,15.9 0.69,15.5L26.61,0.4Q27.3,0 28.02,0.35L40.98,6.55Q41.7,6.9 41.7,7.7L41.7,40.2Q41.7,41 41.02,41.42L14.28,58.08Q13.6,58.5 12.89,58.14L0.71,51.96Q0,51.6 0,50.8Z" fill="url(#gl)" stroke="url(#gl)" stroke-width="0.7"/><path d="M0,16.3Q0,15.9 0.37,16.06L13.23,21.74Q13.6,21.9 13.6,22.3L13.6,58.1Q13.6,58.5 13.24,58.32L0.36,51.78Q0,51.6 0,51.2Z" fill="url(#gl)"/><path d="M13.6,22.3Q13.6,21.9 13.95,21.71L41.35,7.09Q41.7,6.9 41.7,7.3L41.7,40.6Q41.7,41 41.36,41.21L13.94,58.29Q13.6,58.5 13.6,58.1Z" fill="url(#gr2)"/><path d="M0.37,16.06Q0,15.9 0.35,15.7L26.95,0.2Q27.3,0 27.66,0.17L41.34,6.73Q41.7,6.9 41.35,7.09L13.95,21.71Q13.6,21.9 13.23,21.74Z" fill="#2f8dbb"/><line x1="13.6" y1="22" x2="13.6" y2="58" stroke="#1f6c9c" stroke-width="0.8"/><path d="M2,22 L11,26 M2,40 L11,44 M2,44 L11,48" stroke="#2576a6" stroke-width="0.8" opacity="0.7"/></g><text transform="translate(21.6,33.6) skewY(-28)" font-size="4.2" font-weight="bold" fill="#f4fafc" textLength="12" lengthAdjust="spacingAndGlyphs">存储设备</text></g><g transform="translate(1086.5,229.9)"><g><path d="M0,16.9Q0,15.9 0.86,15.4L26.44,0.5Q27.3,0 28.2,0.43L40.8,6.47Q41.7,6.9 41.7,7.9L41.7,40Q41.7,41 40.85,41.53L14.45,57.97Q13.6,58.5 12.71,58.05L0.89,52.05Q0,51.6 0,50.6Z" fill="none" stroke="#8fdcee" stroke-width="3" stroke-opacity="0.5" stroke-linejoin="round"/><path d="M0,16.7Q0,15.9 0.69,15.5L26.61,0.4Q27.3,0 28.02,0.35L40.98,6.55Q41.7,6.9 41.7,7.7L41.7,40.2Q41.7,41 41.02,41.42L14.28,58.08Q13.6,58.5 12.89,58.14L0.71,51.96Q0,51.6 0,50.8Z" fill="url(#gl)" stroke="url(#gl)" stroke-width="0.7"/><path d="M0,16.3Q0,15.9 0.37,16.06L13.23,21.74Q13.6,21.9 13.6,22.3L13.6,58.1Q13.6,58.5 13.24,58.32L0.36,51.78Q0,51.6 0,51.2Z" fill="url(#gl)"/><path d="M13.6,22.3Q13.6,21.9 13.95,21.71L41.35,7.09Q41.7,6.9 41.7,7.3L41.7,40.6Q41.7,41 41.36,41.21L13.94,58.29Q13.6,58.5 13.6,58.1Z" fill="url(#gr2)"/><path d="M0.37,16.06Q0,15.9 0.35,15.7L26.95,0.2Q27.3,0 27.66,0.17L41.34,6.73Q41.7,6.9 41.35,7.09L13.95,21.71Q13.6,21.9 13.23,21.74Z" fill="#2f8dbb"/><line x1="13.6" y1="22" x2="13.6" y2="58" stroke="#1f6c9c" stroke-width="0.8"/><path d="M2,22 L11,26 M2,40 L11,44 M2,44 L11,48" stroke="#2576a6" stroke-width="0.8" opacity="0.7"/></g><text transform="translate(18.1,33.6) skewY(-28)" font-size="4.2" font-weight="bold" fill="#f4fafc" textLength="19" lengthAdjust="spacingAndGlyphs">应用服务器</text></g><g transform="translate(990.2,312.6)"><g><path d="M0,16.9Q0,15.9 0.86,15.4L26.44,0.5Q27.3,0 28.2,0.43L40.8,6.47Q41.7,6.9 41.7,7.9L41.7,40Q41.7,41 40.85,41.53L14.45,57.97Q13.6,58.5 12.71,58.05L0.89,52.05Q0,51.6 0,50.6Z" fill="none" stroke="#8fdcee" stroke-width="3" stroke-opacity="0.5" stroke-linejoin="round"/><path d="M0,16.7Q0,15.9 0.69,15.5L26.61,0.4Q27.3,0 28.02,0.35L40.98,6.55Q41.7,6.9 41.7,7.7L41.7,40.2Q41.7,41 41.02,41.42L14.28,58.08Q13.6,58.5 12.89,58.14L0.71,51.96Q0,51.6 0,50.8Z" fill="url(#gl)" stroke="url(#gl)" stroke-width="0.7"/><path d="M0,16.3Q0,15.9 0.37,16.06L13.23,21.74Q13.6,21.9 13.6,22.3L13.6,58.1Q13.6,58.5 13.24,58.32L0.36,51.78Q0,51.6 0,51.2Z" fill="url(#gl)"/><path d="M13.6,22.3Q13.6,21.9 13.95,21.71L41.35,7.09Q41.7,6.9 41.7,7.3L41.7,40.6Q41.7,41 41.36,41.21L13.94,58.29Q13.6,58.5 13.6,58.1Z" fill="url(#gr2)"/><path d="M0.37,16.06Q0,15.9 0.35,15.7L26.95,0.2Q27.3,0 27.66,0.17L41.34,6.73Q41.7,6.9 41.35,7.09L13.95,21.71Q13.6,21.9 13.23,21.74Z" fill="#2f8dbb"/><line x1="13.6" y1="22" x2="13.6" y2="58" stroke="#1f6c9c" stroke-width="0.8"/><path d="M2,22 L11,26 M2,40 L11,44 M2,44 L11,48" stroke="#2576a6" stroke-width="0.8" opacity="0.7"/></g><text transform="translate(18.1,33.6) skewY(-28)" font-size="4.2" font-weight="bold" fill="#f4fafc" textLength="19" lengthAdjust="spacingAndGlyphs">应用服务器</text></g><g transform="translate(1089.6,311)"><g><path d="M0,16.9Q0,15.9 0.86,15.4L26.44,0.5Q27.3,0 28.2,0.43L40.8,6.47Q41.7,6.9 41.7,7.9L41.7,40Q41.7,41 40.85,41.53L14.45,57.97Q13.6,58.5 12.71,58.05L0.89,52.05Q0,51.6 0,50.6Z" fill="none" stroke="#8fdcee" stroke-width="3" stroke-opacity="0.5" stroke-linejoin="round"/><path d="M0,16.7Q0,15.9 0.69,15.5L26.61,0.4Q27.3,0 28.02,0.35L40.98,6.55Q41.7,6.9 41.7,7.7L41.7,40.2Q41.7,41 41.02,41.42L14.28,58.08Q13.6,58.5 12.89,58.14L0.71,51.96Q0,51.6 0,50.8Z" fill="url(#gl)" stroke="url(#gl)" stroke-width="0.7"/><path d="M0,16.3Q0,15.9 0.37,16.06L13.23,21.74Q13.6,21.9 13.6,22.3L13.6,58.1Q13.6,58.5 13.24,58.32L0.36,51.78Q0,51.6 0,51.2Z" fill="url(#gl)"/><path d="M13.6,22.3Q13.6,21.9 13.95,21.71L41.35,7.09Q41.7,6.9 41.7,7.3L41.7,40.6Q41.7,41 41.36,41.21L13.94,58.29Q13.6,58.5 13.6,58.1Z" fill="url(#gr2)"/><path d="M0.37,16.06Q0,15.9 0.35,15.7L26.95,0.2Q27.3,0 27.66,0.17L41.34,6.73Q41.7,6.9 41.35,7.09L13.95,21.71Q13.6,21.9 13.23,21.74Z" fill="#2f8dbb"/><line x1="13.6" y1="22" x2="13.6" y2="58" stroke="#1f6c9c" stroke-width="0.8"/><path d="M2,22 L11,26 M2,40 L11,44 M2,44 L11,48" stroke="#2576a6" stroke-width="0.8" opacity="0.7"/></g><text transform="translate(18.1,33.6) skewY(-28)" font-size="4.2" font-weight="bold" fill="#f4fafc" textLength="19" lengthAdjust="spacingAndGlyphs">数据服务器</text></g><g transform="translate(985.7,396.4)"><path d="M0,11.6Q0,10.6 0.87,10.1L17.63,0.5Q18.5,0 19.38,0.48L56.72,20.82Q57.6,21.3 57.6,22.3L57.6,36.6Q57.6,37.6 56.75,38.12L39.95,48.48Q39.1,49 38.23,48.51L0.87,27.49Q0,27 0,26Z" fill="none" stroke="#8fdcee" stroke-width="3" stroke-opacity="0.5" stroke-linejoin="round"/><path d="M0,12.1Q0,10.6 1.3,9.85L17.2,0.75Q18.5,0 19.82,0.72L56.28,20.58Q57.6,21.3 57.6,22.8L57.6,36.1Q57.6,37.6 56.32,38.39L40.38,48.21Q39.1,49 37.79,48.26L1.31,27.74Q0,27 0,25.5Z" fill="#2b82b3" stroke="#2b82b3" stroke-width="0.7"/><path d="M0,11.35Q0,10.6 0.66,10.96L38.44,31.64Q39.1,32 39.1,32.75L39.1,48.25Q39.1,49 38.45,48.63L0.65,27.37Q0,27 0,26.25Z" fill="#2b82b3"/><path d="M39.1,32.75Q39.1,32 39.75,31.62L56.95,21.68Q57.6,21.3 57.6,22.05L57.6,36.85Q57.6,37.6 56.96,37.99L39.74,48.61Q39.1,49 39.1,48.25Z" fill="#43a6cd"/><path d="M0.66,10.96Q0,10.6 0.65,10.23L17.85,0.37Q18.5,0 19.16,0.36L56.94,20.94Q57.6,21.3 56.95,21.68L39.75,31.62Q39.1,32 38.44,31.64Z" fill="url(#gt)"/><polygon points="1.4,17 37.6,37.2 37.6,40.4 1.4,20.2" fill="#1f6a9e" opacity="0.9"/><polygon points="2,12.6 20,22.6 20,24 2,14" fill="#4aa6cc" opacity="0.8"/></g><g transform="translate(1086.7,388.8)"><path d="M0,13.5Q0,12.5 0.86,11.99L20.44,0.51Q21.3,0 22.18,0.48L56.02,19.12Q56.9,19.6 56.9,20.6L56.9,41.4Q56.9,42.4 56.02,42.88L35.68,54.02Q34.8,54.5 33.93,54.01L0.87,35.69Q0,35.2 0,34.2Z" fill="none" stroke="#8fdcee" stroke-width="3" stroke-opacity="0.5" stroke-linejoin="round"/><path d="M0,14Q0,12.5 1.29,11.74L20.01,0.76Q21.3,0 22.61,0.72L55.59,18.88Q56.9,19.6 56.9,21.1L56.9,40.9Q56.9,42.4 55.58,43.12L36.12,53.78Q34.8,54.5 33.49,53.77L1.31,35.93Q0,35.2 0,33.7Z" fill="#2a7cae" stroke="#2a7cae" stroke-width="0.7"/><path d="M0,13.25Q0,12.5 0.65,12.87L34.15,32.13Q34.8,32.5 34.8,33.25L34.8,53.75Q34.8,54.5 34.14,54.14L0.66,35.56Q0,35.2 0,34.45Z" fill="#2a7cae"/><path d="M34.8,33.25Q34.8,32.5 35.45,32.12L56.25,19.98Q56.9,19.6 56.9,20.35L56.9,41.65Q56.9,42.4 56.24,42.76L35.46,54.14Q34.8,54.5 34.8,53.75Z" fill="url(#gd)"/><path d="M0.65,12.87Q0,12.5 0.65,12.12L20.65,0.38Q21.3,0 21.96,0.36L56.24,19.24Q56.9,19.6 56.25,19.98L35.45,32.12Q34.8,32.5 34.15,32.13Z" fill="url(#gt)"/><polygon points="1.6,17.4 32.8,35.4 32.8,39.8 1.6,21.8" fill="#1d5f92" stroke="#1d5f92" stroke-width="0.6" stroke-linejoin="round"/><g stroke="#cfe6f3" stroke-width="1.3"><line x1="3" y1="18.6" x2="3" y2="21.8"/><line x1="5.6" y1="20.1" x2="5.6" y2="23.3"/><line x1="8.2" y1="21.6" x2="8.2" y2="24.8"/><line x1="10.8" y1="23.1" x2="10.8" y2="26.3"/><line x1="13.4" y1="24.6" x2="13.4" y2="27.8"/><line x1="16" y1="26.1" x2="16" y2="29.3"/><line x1="18.6" y1="27.6" x2="18.6" y2="30.8"/><line x1="21.2" y1="29.1" x2="21.2" y2="32.3"/><line x1="23.8" y1="30.6" x2="23.8" y2="33.8"/><line x1="26.4" y1="32.1" x2="26.4" y2="35.3"/><line x1="29" y1="33.6" x2="29" y2="36.8"/><line x1="31.6" y1="35.1" x2="31.6" y2="38.3"/></g><polygon points="1.6,27 32.8,45 32.8,49.4 1.6,31.4" fill="#1d5f92" stroke="#1d5f92" stroke-width="0.6" stroke-linejoin="round"/><g stroke="#cfe6f3" stroke-width="1.3"><line x1="3" y1="28.2" x2="3" y2="31.4"/><line x1="5.6" y1="29.7" x2="5.6" y2="32.9"/><line x1="8.2" y1="31.2" x2="8.2" y2="34.4"/><line x1="10.8" y1="32.7" x2="10.8" y2="35.9"/><line x1="13.4" y1="34.2" x2="13.4" y2="37.4"/><line x1="16" y1="35.7" x2="16" y2="38.9"/><line x1="18.6" y1="37.2" x2="18.6" y2="40.4"/><line x1="21.2" y1="38.7" x2="21.2" y2="41.9"/><line x1="23.8" y1="40.2" x2="23.8" y2="43.4"/><line x1="26.4" y1="41.7" x2="26.4" y2="44.9"/><line x1="29" y1="43.2" x2="29" y2="46.4"/><line x1="31.6" y1="44.7" x2="31.6" y2="47.9"/></g></g>
<g fill="#e0262e" font-size="14.6"><text x="320.6" y="672.4" text-anchor="middle">大型学校</text><text x="755" y="671.4" text-anchor="middle" font-weight="500">中型学校</text><text x="1163.4" y="671" text-anchor="middle">小型学校</text></g>
<g stroke="#e4d56c" stroke-width="1.4" fill="none"><line x1="210.8" y1="710" x2="210.8" y2="726"/><line x1="250" y1="762.1" x2="277" y2="762.1"/><line x1="210.8" y1="795" x2="210.8" y2="808.7"/><line x1="645.4" y1="703" x2="645.4" y2="722"/><line x1="685" y1="755" x2="720" y2="755"/><line x1="645.4" y1="784" x2="645.4" y2="808.7"/><line x1="1065.4" y1="697" x2="1065.4" y2="726"/><line x1="1104" y1="753.6" x2="1147.5" y2="753.6"/><line x1="1065.4" y1="782" x2="1065.4" y2="808.7"/></g>
<path d="M367.1,754.8 h7.8 m12.2,0 h17.8 m12.2,0 h17.8 m12.2,0 h17.8 m12.2,0 h17.8 m12.2,0 h17.8" stroke="#111" stroke-width="2.3" stroke-linecap="round" fill="none"/><path d="M797.1,754.8 h7.8 m12.2,0 h17.8 m12.2,0 h17.8 m12.2,0 h17.8 m12.2,0 h17.8 m12.2,0 h17.8" stroke="#111" stroke-width="2.3" stroke-linecap="round" fill="none"/>
<g transform="translate(188.8,654.9)"><path d="M0,5Q0,3 1.93,2.49L9.47,0.51Q11.4,0 13.26,0.74L42.14,12.16Q44,12.9 44,14.9L44,50.3Q44,52.3 42.12,52.98L33.08,56.22Q31.2,56.9 29.34,56.17L1.86,45.43Q0,44.7 0,42.7Z" fill="url(#gfw)" stroke="url(#gfw)" stroke-width="0.7"/><path d="M0,4Q0,3 0.92,3.38L30.28,15.52Q31.2,15.9 31.2,16.9L31.2,55.9Q31.2,56.9 30.27,56.54L0.93,45.06Q0,44.7 0,43.7Z" fill="url(#gfw)"/><path d="M31.2,16.9Q31.2,15.9 32.17,15.67L43.03,13.13Q44,12.9 44,13.9L44,51.3Q44,52.3 43.06,52.64L32.14,56.56Q31.2,56.9 31.2,55.9Z" fill="url(#gr)"/><path d="M0.92,3.38Q0,3 0.97,2.75L10.43,0.25Q11.4,0 12.33,0.37L43.07,12.53Q44,12.9 43.03,13.13L32.17,15.67Q31.2,15.9 30.28,15.52Z" fill="#3b9dc8"/><g stroke="#5fb6d8" stroke-width="0.8" opacity="0.5"><line x1="3" y1="9" x2="29" y2="19.8"/><line x1="3" y1="15" x2="29" y2="25.8"/><line x1="3" y1="21" x2="29" y2="31.8"/><line x1="3" y1="27" x2="29" y2="37.8"/><line x1="3" y1="33" x2="29" y2="43.8"/><line x1="3" y1="39" x2="29" y2="49.8"/></g><path d="M22.5,14 L22.5,50" stroke="#2474a6" stroke-width="1.2" opacity="0.6"/></g><g transform="translate(210.8,724)"><path d="M-2.66,0.99Q0,-0.4 2.66,0.99L37.14,19.01Q39.8,20.4 39.8,23.4L39.8,48.6Q39.8,51.6 37.17,53.05L2.63,72.15Q0,73.6 -2.63,72.15L-37.17,53.05Q-39.8,51.6 -39.8,48.6L-39.8,23.4Q-39.8,20.4 -37.14,19.01Z" fill="url(#gs)"/><path d="M-39.8,22.9Q-39.8,20.4 -37.63,21.63L-2.17,41.77Q0,43 0,45.5L0,71.1Q0,73.6 -2.19,72.39L-37.61,52.81Q-39.8,51.6 -39.8,49.1Z" fill="url(#gl)"/><path d="M0,45.5Q0,43 2.17,41.77L37.63,21.63Q39.8,20.4 39.8,22.9L39.8,49.1Q39.8,51.6 37.61,52.81L2.19,72.39Q0,73.6 0,71.1Z" fill="url(#gr3)"/><path d="M-3.1,1.22Q0,-0.4 3.1,1.22L36.7,18.78Q39.8,20.4 36.77,22.15L3.03,41.65Q0,43.4 -3.03,41.65L-36.77,22.15Q-39.8,20.4 -36.7,18.78Z" fill="url(#gt)" stroke="#56b0d2" stroke-width="0.6" stroke-opacity="0.5"/><polygon points="-38,31 -5,49.4 -5,70 -38,52" fill="#1f6496" opacity="0.9"/><polygon points="-36.4,38.6 -18,48.2 -18,54.4 -36.4,44.8" fill="#5e86a8" opacity="0.8"/><polygon points="-36.2,46.4 -8,61.2 -8,66.6 -36.2,51.8" fill="#a9c8de" opacity="0.9"/><g stroke="#1f6496" stroke-width="1"><line x1="-34" y1="47.4" x2="-34" y2="53.8"/><line x1="-30.8" y1="49.08" x2="-30.8" y2="55.48"/><line x1="-27.6" y1="50.76" x2="-27.6" y2="57.16"/><line x1="-24.4" y1="52.44" x2="-24.4" y2="58.84"/><line x1="-21.2" y1="54.12" x2="-21.2" y2="60.52"/><line x1="-18" y1="55.8" x2="-18" y2="62.2"/><line x1="-14.8" y1="57.48" x2="-14.8" y2="63.88"/><line x1="-11.6" y1="59.16" x2="-11.6" y2="65.56"/><line x1="-8.4" y1="60.84" x2="-8.4" y2="67.24"/></g><circle cx="-23.6" cy="40.4" r="2.2" fill="#d9eef8"/><polygon points="-7,50.6 -5,51.6 -5,68.4 -7,67.4" fill="#17507e" stroke="#17507e" stroke-width="0.6" stroke-linejoin="round"/></g><g transform="translate(296.8,743.8)"><path d="M-2.62,1.45Q0,0 2.62,1.45L18.68,10.35Q21.3,11.8 21.3,14.8L21.3,18Q21.3,21 18.68,22.45L2.62,31.35Q0,32.8 -2.62,31.35L-18.68,22.45Q-21.3,21 -21.3,18L-21.3,14.8Q-21.3,11.8 -18.68,10.35Z" fill="url(#gs)"/><path d="M-2.62,1.45Q0,0 2.62,1.45L18.68,10.35Q21.3,11.8 18.68,13.25L2.62,22.15Q0,23.6 -2.62,22.15L-18.68,13.25Q-21.3,11.8 -18.68,10.35Z" fill="url(#gt)" stroke="#56b0d2" stroke-width="0.6" stroke-opacity="0.55"/><text x="-0.4" y="14.4" font-size="7.2" font-weight="bold" fill="#e9f8fd" stroke="#e9f8fd" stroke-width="0.3" text-anchor="middle" textLength="10.4" lengthAdjust="spacingAndGlyphs">AC</text><g fill="none" stroke="#d4f0f9" stroke-width="1.1" stroke-linecap="round"><path d="M-4,3.2 C-4,8 3.4,8 3.4,3.2"/><path d="M-4,20 L-3,16.2 C-2.6,15 2.4,15 2.8,16.2 L3.8,20"/><path d="M-8,9 C-9.4,10.6 -9.4,13.4 -8,15"/><path d="M-10.2,8.2 C-12,10.2 -12,13.8 -10.2,15.8"/><path d="M-12.4,7.8 C-14.4,10 -14.4,14 -12.4,16.2"/><path d="M7.2,9 C8.6,10.6 8.6,13.4 7.2,15"/><path d="M9.4,8.2 C11.2,10.2 11.2,13.8 9.4,15.8"/><path d="M11.6,7.8 C13.6,10 13.6,14 11.6,16.2"/></g><text transform="translate(8.4,27) skewY(-29)" font-size="4.4" font-weight="bold" fill="#e4f2f8">L3</text></g><g transform="translate(645.6,660)"><path d="M-24.2,10.4 L-24.2,32.4 A24.2,11.6 0 0 0 24.2,32.4 L24.2,10.4 Z" fill="url(#gcy)"/><ellipse cx="0" cy="10.4" rx="24.2" ry="10.4" fill="url(#gt)" stroke="#5ab4d6" stroke-width="0.7" stroke-opacity="0.6"/><g stroke="#d9f1fa" stroke-width="1" fill="none" opacity="0.95"><line x1="6.68" y1="11.33" x2="9.27" y2="14.08"/><line x1="4.48" y1="13.62" x2="3.52" y2="16.57"/><line x1="0.26" y1="14.76" x2="-3.89" y2="16.78"/><line x1="-4.37" y1="14.31" x2="-10.11" y2="14.63"/><line x1="-7.63" y1="12.44" x2="-12.78" y2="10.94"/><line x1="-8.28" y1="9.87" x2="-10.87" y2="7.12"/><line x1="-6.08" y1="7.58" x2="-5.12" y2="4.63"/><line x1="-1.86" y1="6.44" x2="2.29" y2="4.42"/><line x1="2.77" y1="6.89" x2="8.51" y2="6.57"/><line x1="6.03" y1="8.76" x2="11.18" y2="10.26"/></g><circle cx="9.94" cy="14.3" r="1" fill="#c9f0fb"/><circle cx="3.8" cy="16.94" r="1" fill="#c9f0fb"/><circle cx="-4.1" cy="17.17" r="1" fill="#c9f0fb"/><circle cx="-10.74" cy="14.89" r="1" fill="#c9f0fb"/><circle cx="-13.58" cy="10.97" r="1" fill="#c9f0fb"/><circle cx="-11.54" cy="6.9" r="1" fill="#c9f0fb"/><circle cx="-5.4" cy="4.26" r="1" fill="#c9f0fb"/><circle cx="2.5" cy="4.03" r="1" fill="#c9f0fb"/><circle cx="9.14" cy="6.31" r="1" fill="#c9f0fb"/><circle cx="11.98" cy="10.23" r="1" fill="#c9f0fb"/><ellipse cx="-0.8" cy="10.4" rx="8.4" ry="4.8" fill="#eef3f5"/><ellipse cx="-0.6" cy="10" rx="4.4" ry="2.4" fill="#dfe6e3" stroke="#fbfdfd" stroke-width="0.8"/><path d="M2,27.4 L9.4,27.4 M3,30 L9,30 M3,32.6 L9,32.6 M2.6,35.2 L9,35.2 M1.6,37.8 L9.4,37.8" stroke="#f4fafc" stroke-width="1.2"/><ellipse cx="-2" cy="33" rx="6.2" ry="6.4" fill="#fdfefe"/><text x="-2" y="36.6" font-size="9.6" font-weight="bold" fill="#1c1c22" text-anchor="middle">R</text></g><g transform="translate(645.2,719.2)"><path d="M-3.15,1.75Q0,0 3.15,1.75L36.85,20.45Q40,22.2 40,25.8L40,41.8Q40,45.4 36.85,47.15L3.15,65.85Q0,67.6 -3.15,65.85L-36.85,47.15Q-40,45.4 -40,41.8L-40,25.8Q-40,22.2 -36.85,20.45Z" fill="url(#gs)"/><path d="M-3.15,1.75Q0,0 3.15,1.75L36.85,20.45Q40,22.2 36.85,23.95L3.15,42.65Q0,44.4 -3.15,42.65L-36.85,23.95Q-40,22.2 -36.85,20.45Z" fill="url(#gt)" stroke="#56b0d2" stroke-width="0.6" stroke-opacity="0.55"/><g fill="none" stroke="#dcf4fc" stroke-width="1.35" stroke-linecap="round"><ellipse cx="0.3" cy="22.8" rx="12.2" ry="8.4"/><path d="M-6.1,9 C-6.1,12.9 -3.2,14.4 0.3,14.4 C3.8,14.4 6.7,12.9 6.7,9"/><path d="M-6.1,36.6 C-6.1,32.7 -3.2,31.2 0.3,31.2 C3.8,31.2 6.7,32.7 6.7,36.6"/><path d="M-23.4,18.7 C-15.9,18.7 -12.4,20.6 -12.4,22.8 C-12.4,25 -15.9,26.9 -23.4,26.9"/><path d="M24,18.7 C16.5,18.7 13,20.6 13,22.8 C13,25 16.5,26.9 24,26.9"/></g><g fill="#e4f7fd"><polygon points="-6.1,6.4 -3.5,10.3 -8.7,10.3"/><polygon points="6.7,6.4 9.3,10.3 4.1,10.3"/><polygon points="-6.1,39.2 -8.7,35.3 -3.5,35.3"/><polygon points="6.7,39.2 4.1,35.3 9.3,35.3"/><polygon points="-26.5,18.7 -22.6,16.1 -22.6,21.3"/><polygon points="-26.5,26.9 -22.6,24.3 -22.6,29.5"/><polygon points="27.1,18.7 23.2,21.3 23.2,16.1"/><polygon points="27.1,26.9 23.2,29.5 23.2,24.3"/></g><g fill="#f2f9fc" stroke="#f2f9fc" stroke-width="0.65" font-weight="bold" font-size="7.9"><text transform="translate(-37.2,40) skewY(29.1)" textLength="33.6" lengthAdjust="spacing">SWITCH</text><text transform="translate(8.5,52) skewY(-29.1) skewX(-6)" font-size="7.8" textLength="23" lengthAdjust="spacingAndGlyphs">DATA</text><text transform="translate(4.5,63) skewY(-29.1) skewX(-6)" font-size="7.8" textLength="33.5" lengthAdjust="spacingAndGlyphs">CENTER</text></g></g><g transform="translate(740.2,737.2)"><path d="M-2.62,1.45Q0,0 2.62,1.45L18.68,10.35Q21.3,11.8 21.3,14.8L21.3,18Q21.3,21 18.68,22.45L2.62,31.35Q0,32.8 -2.62,31.35L-18.68,22.45Q-21.3,21 -21.3,18L-21.3,14.8Q-21.3,11.8 -18.68,10.35Z" fill="url(#gs)"/><path d="M-2.62,1.45Q0,0 2.62,1.45L18.68,10.35Q21.3,11.8 18.68,13.25L2.62,22.15Q0,23.6 -2.62,22.15L-18.68,13.25Q-21.3,11.8 -18.68,10.35Z" fill="url(#gt)" stroke="#56b0d2" stroke-width="0.6" stroke-opacity="0.55"/><text x="-0.4" y="14.4" font-size="7.2" font-weight="bold" fill="#e9f8fd" stroke="#e9f8fd" stroke-width="0.3" text-anchor="middle" textLength="10.4" lengthAdjust="spacingAndGlyphs">AC</text><g fill="none" stroke="#d4f0f9" stroke-width="1.1" stroke-linecap="round"><path d="M-4,3.2 C-4,8 3.4,8 3.4,3.2"/><path d="M-4,20 L-3,16.2 C-2.6,15 2.4,15 2.8,16.2 L3.8,20"/><path d="M-8,9 C-9.4,10.6 -9.4,13.4 -8,15"/><path d="M-10.2,8.2 C-12,10.2 -12,13.8 -10.2,15.8"/><path d="M-12.4,7.8 C-14.4,10 -14.4,14 -12.4,16.2"/><path d="M7.2,9 C8.6,10.6 8.6,13.4 7.2,15"/><path d="M9.4,8.2 C11.2,10.2 11.2,13.8 9.4,15.8"/><path d="M11.6,7.8 C13.6,10 13.6,14 11.6,16.2"/></g><text transform="translate(8.4,27) skewY(-29)" font-size="4.4" font-weight="bold" fill="#e4f2f8">L3</text></g><g transform="translate(1065.6,665.7)"><path d="M-24.3,10.8 L-24.3,21.6 A24.3,11.2 0 0 0 24.3,21.6 L24.3,10.8 Z" fill="url(#gcy)"/><ellipse cx="0" cy="10.8" rx="24.3" ry="10.8" fill="url(#gt)" stroke="#5ab4d6" stroke-width="0.7" stroke-opacity="0.6"/><path d="M-6.4,6.6 L5.8,6.6 L8,9 L8,13 L5.8,15.4 L-6.4,15.4 L-8.6,13 L-8.6,9 Z" fill="#f4fafc"/><circle cx="-0.4" cy="11" r="2.3" fill="#2b7fae"/><g stroke="#f4fafc" stroke-width="1.3" fill="none"><path d="M-8,8 C-10.5,6.6 -12,6.2 -15,6.2 M8,8 C10.5,6.6 12,6.2 15,6.2 M-8,14 C-10.5,15.6 -12,16.4 -15,16.4 M8,14 C10.5,15.6 12,16.4 15,16.4"/></g><g fill="#f4fafc"><polygon points="-17.6,6.2 -14,4 -14,8.4"/><polygon points="17.6,6.2 14,4 14,8.4"/><polygon points="-17.6,16.4 -14,14.2 -14,18.6"/><polygon points="17.6,16.4 14,14.2 14,18.6"/></g><path d="M1,25.2 L6.4,25.2 M2,27.4 L6.4,27.4 M2,29.6 L6.4,29.6 M1,31.8 L6,31.8" stroke="#f4fafc" stroke-width="1"/><circle cx="-0.8" cy="28.2" r="4.5" fill="#fdfefe"/><text x="-0.8" y="30.8" font-size="7" font-weight="bold" fill="#222" text-anchor="middle">R</text></g><g transform="translate(1065,723.4)"><g><path d="M-3.12,1.79Q0,0 3.12,1.79L36.28,20.81Q39.4,22.6 39.4,26.2L39.4,35.6Q39.4,39.2 36.28,40.99L3.12,60.01Q0,61.8 -3.12,60.01L-36.28,40.99Q-39.4,39.2 -39.4,35.6L-39.4,26.2Q-39.4,22.6 -36.28,20.81Z" fill="url(#gs)"/><path d="M-3.12,1.79Q0,0 3.12,1.79L36.28,20.81Q39.4,22.6 36.28,24.39L3.12,43.41Q0,45.2 -3.12,43.41L-36.28,24.39Q-39.4,22.6 -36.28,20.81Z" fill="url(#gt)" stroke="#56b0d2" stroke-width="0.6" stroke-opacity="0.55"/><g fill="none" stroke="#dcf4fc" stroke-width="1.35" stroke-linecap="round"><ellipse cx="0.3" cy="22.4" rx="12.3" ry="8"/><path d="M-6.1,9 C-6.1,12.9 -3.2,14.4 0.3,14.4 C3.8,14.4 6.7,12.9 6.7,9"/><path d="M-6.1,35.8 C-6.1,31.9 -3.2,30.4 0.3,30.4 C3.8,30.4 6.7,31.9 6.7,35.8"/><path d="M-23.5,18.3 C-16,18.3 -12.5,20.2 -12.5,22.4 C-12.5,24.6 -16,26.5 -23.5,26.5"/><path d="M24.1,18.3 C16.6,18.3 13.1,20.2 13.1,22.4 C13.1,24.6 16.6,26.5 24.1,26.5"/></g><g fill="#e4f7fd"><polygon points="-6.1,6.4 -3.5,10.3 -8.7,10.3"/><polygon points="6.7,6.4 9.3,10.3 4.1,10.3"/><polygon points="-6.1,38.4 -8.7,34.5 -3.5,34.5"/><polygon points="6.7,38.4 4.1,34.5 9.3,34.5"/><polygon points="-26.6,18.3 -22.7,15.7 -22.7,20.9"/><polygon points="-26.6,26.5 -22.7,23.9 -22.7,29.1"/><polygon points="27.2,18.3 23.3,20.9 23.3,15.7"/><polygon points="27.2,26.5 23.3,29.1 23.3,23.9"/></g><g fill="#f2f9fc" stroke="#f2f9fc" stroke-width="0.65" font-weight="bold" font-size="7.7"><text transform="translate(-36.6,37.6) skewY(29.1)" textLength="32.6" lengthAdjust="spacing">SWITCH</text><text transform="translate(5.2,55) skewY(-29.1) skewX(-5)" font-size="8.6" textLength="30.6" lengthAdjust="spacing">1000M</text></g></g><text x="0.4" y="26.4" font-size="11.4" font-weight="bold" fill="#f2f9fc" stroke="#f2f9fc" stroke-width="0.3" text-anchor="middle">L3</text></g><g transform="translate(1168,737)"><path d="M-2.62,1.45Q0,0 2.62,1.45L18.68,10.35Q21.3,11.8 21.3,14.8L21.3,18Q21.3,21 18.68,22.45L2.62,31.35Q0,32.8 -2.62,31.35L-18.68,22.45Q-21.3,21 -21.3,18L-21.3,14.8Q-21.3,11.8 -18.68,10.35Z" fill="url(#gs)"/><path d="M-2.62,1.45Q0,0 2.62,1.45L18.68,10.35Q21.3,11.8 18.68,13.25L2.62,22.15Q0,23.6 -2.62,22.15L-18.68,13.25Q-21.3,11.8 -18.68,10.35Z" fill="url(#gt)" stroke="#56b0d2" stroke-width="0.6" stroke-opacity="0.55"/><text x="-0.4" y="14.4" font-size="7.2" font-weight="bold" fill="#e9f8fd" stroke="#e9f8fd" stroke-width="0.3" text-anchor="middle" textLength="10.4" lengthAdjust="spacingAndGlyphs">AC</text><g fill="none" stroke="#d4f0f9" stroke-width="1.1" stroke-linecap="round"><path d="M-4,3.2 C-4,8 3.4,8 3.4,3.2"/><path d="M-4,20 L-3,16.2 C-2.6,15 2.4,15 2.8,16.2 L3.8,20"/><path d="M-8,9 C-9.4,10.6 -9.4,13.4 -8,15"/><path d="M-10.2,8.2 C-12,10.2 -12,13.8 -10.2,15.8"/><path d="M-12.4,7.8 C-14.4,10 -14.4,14 -12.4,16.2"/><path d="M7.2,9 C8.6,10.6 8.6,13.4 7.2,15"/><path d="M9.4,8.2 C11.2,10.2 11.2,13.8 9.4,15.8"/><path d="M11.6,7.8 C13.6,10 13.6,14 11.6,16.2"/></g><text transform="translate(8.4,27) skewY(-29)" font-size="4.4" font-weight="bold" fill="#e4f2f8">L3</text></g>
<g stroke="#e4d56c" stroke-width="1.4" fill="none"><polyline points="131,817 131,808.7 291.5,808.7 291.5,817"/><polyline points="91,884 91,879.6 171,879.6 171,884"/><polyline points="251,884 251,879.6 331,879.6 331,884"/></g><g transform="translate(131,814.9)"><g><path d="M-3.12,1.79Q0,0 3.12,1.79L36.28,20.81Q39.4,22.6 39.4,26.2L39.4,35.6Q39.4,39.2 36.28,40.99L3.12,60.01Q0,61.8 -3.12,60.01L-36.28,40.99Q-39.4,39.2 -39.4,35.6L-39.4,26.2Q-39.4,22.6 -36.28,20.81Z" fill="url(#gs)"/><path d="M-3.12,1.79Q0,0 3.12,1.79L36.28,20.81Q39.4,22.6 36.28,24.39L3.12,43.41Q0,45.2 -3.12,43.41L-36.28,24.39Q-39.4,22.6 -36.28,20.81Z" fill="url(#gt)" stroke="#56b0d2" stroke-width="0.6" stroke-opacity="0.55"/><g fill="none" stroke="#dcf4fc" stroke-width="1.35" stroke-linecap="round"><ellipse cx="0.3" cy="22.4" rx="12.3" ry="8"/><path d="M-6.1,9 C-6.1,12.9 -3.2,14.4 0.3,14.4 C3.8,14.4 6.7,12.9 6.7,9"/><path d="M-6.1,35.8 C-6.1,31.9 -3.2,30.4 0.3,30.4 C3.8,30.4 6.7,31.9 6.7,35.8"/><path d="M-23.5,18.3 C-16,18.3 -12.5,20.2 -12.5,22.4 C-12.5,24.6 -16,26.5 -23.5,26.5"/><path d="M24.1,18.3 C16.6,18.3 13.1,20.2 13.1,22.4 C13.1,24.6 16.6,26.5 24.1,26.5"/></g><g fill="#e4f7fd"><polygon points="-6.1,6.4 -3.5,10.3 -8.7,10.3"/><polygon points="6.7,6.4 9.3,10.3 4.1,10.3"/><polygon points="-6.1,38.4 -8.7,34.5 -3.5,34.5"/><polygon points="6.7,38.4 4.1,34.5 9.3,34.5"/><polygon points="-26.6,18.3 -22.7,15.7 -22.7,20.9"/><polygon points="-26.6,26.5 -22.7,23.9 -22.7,29.1"/><polygon points="27.2,18.3 23.3,20.9 23.3,15.7"/><polygon points="27.2,26.5 23.3,29.1 23.3,23.9"/></g><g fill="#f2f9fc" stroke="#f2f9fc" stroke-width="0.65" font-weight="bold" font-size="7.7"><text transform="translate(-36.6,37.6) skewY(29.1)" textLength="32.6" lengthAdjust="spacing">SWITCH</text><text transform="translate(5.2,55) skewY(-29.1) skewX(-5)" font-size="8.6" textLength="30.6" lengthAdjust="spacing">1000M</text></g></g><text x="0.4" y="26.4" font-size="11.4" font-weight="bold" fill="#f2f9fc" stroke="#f2f9fc" stroke-width="0.3" text-anchor="middle">L3</text></g><g transform="translate(291.5,814.9)"><g><path d="M-3.12,1.79Q0,0 3.12,1.79L36.28,20.81Q39.4,22.6 39.4,26.2L39.4,35.6Q39.4,39.2 36.28,40.99L3.12,60.01Q0,61.8 -3.12,60.01L-36.28,40.99Q-39.4,39.2 -39.4,35.6L-39.4,26.2Q-39.4,22.6 -36.28,20.81Z" fill="url(#gs)"/><path d="M-3.12,1.79Q0,0 3.12,1.79L36.28,20.81Q39.4,22.6 36.28,24.39L3.12,43.41Q0,45.2 -3.12,43.41L-36.28,24.39Q-39.4,22.6 -36.28,20.81Z" fill="url(#gt)" stroke="#56b0d2" stroke-width="0.6" stroke-opacity="0.55"/><g fill="none" stroke="#dcf4fc" stroke-width="1.35" stroke-linecap="round"><ellipse cx="0.3" cy="22.4" rx="12.3" ry="8"/><path d="M-6.1,9 C-6.1,12.9 -3.2,14.4 0.3,14.4 C3.8,14.4 6.7,12.9 6.7,9"/><path d="M-6.1,35.8 C-6.1,31.9 -3.2,30.4 0.3,30.4 C3.8,30.4 6.7,31.9 6.7,35.8"/><path d="M-23.5,18.3 C-16,18.3 -12.5,20.2 -12.5,22.4 C-12.5,24.6 -16,26.5 -23.5,26.5"/><path d="M24.1,18.3 C16.6,18.3 13.1,20.2 13.1,22.4 C13.1,24.6 16.6,26.5 24.1,26.5"/></g><g fill="#e4f7fd"><polygon points="-6.1,6.4 -3.5,10.3 -8.7,10.3"/><polygon points="6.7,6.4 9.3,10.3 4.1,10.3"/><polygon points="-6.1,38.4 -8.7,34.5 -3.5,34.5"/><polygon points="6.7,38.4 4.1,34.5 9.3,34.5"/><polygon points="-26.6,18.3 -22.7,15.7 -22.7,20.9"/><polygon points="-26.6,26.5 -22.7,23.9 -22.7,29.1"/><polygon points="27.2,18.3 23.3,20.9 23.3,15.7"/><polygon points="27.2,26.5 23.3,29.1 23.3,23.9"/></g><g fill="#f2f9fc" stroke="#f2f9fc" stroke-width="0.65" font-weight="bold" font-size="7.7"><text transform="translate(-36.6,37.6) skewY(29.1)" textLength="32.6" lengthAdjust="spacing">SWITCH</text><text transform="translate(5.2,55) skewY(-29.1) skewX(-5)" font-size="8.6" textLength="30.6" lengthAdjust="spacing">1000M</text></g></g><text x="0.4" y="26.4" font-size="11.4" font-weight="bold" fill="#f2f9fc" stroke="#f2f9fc" stroke-width="0.3" text-anchor="middle">L3</text></g><g transform="translate(91,882.2) scale(0.89)"><g><path d="M-3.12,1.79Q0,0 3.12,1.79L36.28,20.81Q39.4,22.6 39.4,26.2L39.4,35.6Q39.4,39.2 36.28,40.99L3.12,60.01Q0,61.8 -3.12,60.01L-36.28,40.99Q-39.4,39.2 -39.4,35.6L-39.4,26.2Q-39.4,22.6 -36.28,20.81Z" fill="url(#gs)"/><path d="M-3.12,1.79Q0,0 3.12,1.79L36.28,20.81Q39.4,22.6 36.28,24.39L3.12,43.41Q0,45.2 -3.12,43.41L-36.28,24.39Q-39.4,22.6 -36.28,20.81Z" fill="url(#gt)" stroke="#56b0d2" stroke-width="0.6" stroke-opacity="0.55"/><g fill="none" stroke="#dcf4fc" stroke-width="1.35" stroke-linecap="round"><ellipse cx="0.3" cy="22.4" rx="12.3" ry="8"/><path d="M-6.1,9 C-6.1,12.9 -3.2,14.4 0.3,14.4 C3.8,14.4 6.7,12.9 6.7,9"/><path d="M-6.1,35.8 C-6.1,31.9 -3.2,30.4 0.3,30.4 C3.8,30.4 6.7,31.9 6.7,35.8"/><path d="M-23.5,18.3 C-16,18.3 -12.5,20.2 -12.5,22.4 C-12.5,24.6 -16,26.5 -23.5,26.5"/><path d="M24.1,18.3 C16.6,18.3 13.1,20.2 13.1,22.4 C13.1,24.6 16.6,26.5 24.1,26.5"/></g><g fill="#e4f7fd"><polygon points="-6.1,6.4 -3.5,10.3 -8.7,10.3"/><polygon points="6.7,6.4 9.3,10.3 4.1,10.3"/><polygon points="-6.1,38.4 -8.7,34.5 -3.5,34.5"/><polygon points="6.7,38.4 4.1,34.5 9.3,34.5"/><polygon points="-26.6,18.3 -22.7,15.7 -22.7,20.9"/><polygon points="-26.6,26.5 -22.7,23.9 -22.7,29.1"/><polygon points="27.2,18.3 23.3,20.9 23.3,15.7"/><polygon points="27.2,26.5 23.3,29.1 23.3,23.9"/></g><g fill="#f2f9fc" stroke="#f2f9fc" stroke-width="0.65" font-weight="bold" font-size="7.7"><text transform="translate(-36.6,37.6) skewY(29.1)" textLength="32.6" lengthAdjust="spacing">SWITCH</text><text transform="translate(5.2,55) skewY(-29.1) skewX(-5)" font-size="8.6" textLength="30.6" lengthAdjust="spacing">1000M</text></g></g><text x="0.4" y="26.4" font-size="11.4" font-weight="bold" fill="#f2f9fc" stroke="#f2f9fc" stroke-width="0.3" text-anchor="middle">L2</text></g><g transform="translate(171,882.2) scale(0.89)"><g><path d="M-3.12,1.79Q0,0 3.12,1.79L36.28,20.81Q39.4,22.6 39.4,26.2L39.4,35.6Q39.4,39.2 36.28,40.99L3.12,60.01Q0,61.8 -3.12,60.01L-36.28,40.99Q-39.4,39.2 -39.4,35.6L-39.4,26.2Q-39.4,22.6 -36.28,20.81Z" fill="url(#gs)"/><path d="M-3.12,1.79Q0,0 3.12,1.79L36.28,20.81Q39.4,22.6 36.28,24.39L3.12,43.41Q0,45.2 -3.12,43.41L-36.28,24.39Q-39.4,22.6 -36.28,20.81Z" fill="url(#gt)" stroke="#56b0d2" stroke-width="0.6" stroke-opacity="0.55"/><g fill="none" stroke="#dcf4fc" stroke-width="1.35" stroke-linecap="round"><ellipse cx="0.3" cy="22.4" rx="12.3" ry="8"/><path d="M-6.1,9 C-6.1,12.9 -3.2,14.4 0.3,14.4 C3.8,14.4 6.7,12.9 6.7,9"/><path d="M-6.1,35.8 C-6.1,31.9 -3.2,30.4 0.3,30.4 C3.8,30.4 6.7,31.9 6.7,35.8"/><path d="M-23.5,18.3 C-16,18.3 -12.5,20.2 -12.5,22.4 C-12.5,24.6 -16,26.5 -23.5,26.5"/><path d="M24.1,18.3 C16.6,18.3 13.1,20.2 13.1,22.4 C13.1,24.6 16.6,26.5 24.1,26.5"/></g><g fill="#e4f7fd"><polygon points="-6.1,6.4 -3.5,10.3 -8.7,10.3"/><polygon points="6.7,6.4 9.3,10.3 4.1,10.3"/><polygon points="-6.1,38.4 -8.7,34.5 -3.5,34.5"/><polygon points="6.7,38.4 4.1,34.5 9.3,34.5"/><polygon points="-26.6,18.3 -22.7,15.7 -22.7,20.9"/><polygon points="-26.6,26.5 -22.7,23.9 -22.7,29.1"/><polygon points="27.2,18.3 23.3,20.9 23.3,15.7"/><polygon points="27.2,26.5 23.3,29.1 23.3,23.9"/></g><g fill="#f2f9fc" stroke="#f2f9fc" stroke-width="0.65" font-weight="bold" font-size="7.7"><text transform="translate(-36.6,37.6) skewY(29.1)" textLength="32.6" lengthAdjust="spacing">SWITCH</text><text transform="translate(5.2,55) skewY(-29.1) skewX(-5)" font-size="8.6" textLength="30.6" lengthAdjust="spacing">1000M</text></g></g><text x="0.4" y="26.4" font-size="11.4" font-weight="bold" fill="#f2f9fc" stroke="#f2f9fc" stroke-width="0.3" text-anchor="middle">L2</text></g><g transform="translate(251,882.2) scale(0.89)"><g><path d="M-3.12,1.79Q0,0 3.12,1.79L36.28,20.81Q39.4,22.6 39.4,26.2L39.4,35.6Q39.4,39.2 36.28,40.99L3.12,60.01Q0,61.8 -3.12,60.01L-36.28,40.99Q-39.4,39.2 -39.4,35.6L-39.4,26.2Q-39.4,22.6 -36.28,20.81Z" fill="url(#gs)"/><path d="M-3.12,1.79Q0,0 3.12,1.79L36.28,20.81Q39.4,22.6 36.28,24.39L3.12,43.41Q0,45.2 -3.12,43.41L-36.28,24.39Q-39.4,22.6 -36.28,20.81Z" fill="url(#gt)" stroke="#56b0d2" stroke-width="0.6" stroke-opacity="0.55"/><g fill="none" stroke="#dcf4fc" stroke-width="1.35" stroke-linecap="round"><ellipse cx="0.3" cy="22.4" rx="12.3" ry="8"/><path d="M-6.1,9 C-6.1,12.9 -3.2,14.4 0.3,14.4 C3.8,14.4 6.7,12.9 6.7,9"/><path d="M-6.1,35.8 C-6.1,31.9 -3.2,30.4 0.3,30.4 C3.8,30.4 6.7,31.9 6.7,35.8"/><path d="M-23.5,18.3 C-16,18.3 -12.5,20.2 -12.5,22.4 C-12.5,24.6 -16,26.5 -23.5,26.5"/><path d="M24.1,18.3 C16.6,18.3 13.1,20.2 13.1,22.4 C13.1,24.6 16.6,26.5 24.1,26.5"/></g><g fill="#e4f7fd"><polygon points="-6.1,6.4 -3.5,10.3 -8.7,10.3"/><polygon points="6.7,6.4 9.3,10.3 4.1,10.3"/><polygon points="-6.1,38.4 -8.7,34.5 -3.5,34.5"/><polygon points="6.7,38.4 4.1,34.5 9.3,34.5"/><polygon points="-26.6,18.3 -22.7,15.7 -22.7,20.9"/><polygon points="-26.6,26.5 -22.7,23.9 -22.7,29.1"/><polygon points="27.2,18.3 23.3,20.9 23.3,15.7"/><polygon points="27.2,26.5 23.3,29.1 23.3,23.9"/></g><g fill="#f2f9fc" stroke="#f2f9fc" stroke-width="0.65" font-weight="bold" font-size="7.7"><text transform="translate(-36.6,37.6) skewY(29.1)" textLength="32.6" lengthAdjust="spacing">SWITCH</text><text transform="translate(5.2,55) skewY(-29.1) skewX(-5)" font-size="8.6" textLength="30.6" lengthAdjust="spacing">1000M</text></g></g><text x="0.4" y="26.4" font-size="11.4" font-weight="bold" fill="#f2f9fc" stroke="#f2f9fc" stroke-width="0.3" text-anchor="middle">L2</text></g><g transform="translate(331,882.2) scale(0.89)"><g><path d="M-3.12,1.79Q0,0 3.12,1.79L36.28,20.81Q39.4,22.6 39.4,26.2L39.4,35.6Q39.4,39.2 36.28,40.99L3.12,60.01Q0,61.8 -3.12,60.01L-36.28,40.99Q-39.4,39.2 -39.4,35.6L-39.4,26.2Q-39.4,22.6 -36.28,20.81Z" fill="url(#gs)"/><path d="M-3.12,1.79Q0,0 3.12,1.79L36.28,20.81Q39.4,22.6 36.28,24.39L3.12,43.41Q0,45.2 -3.12,43.41L-36.28,24.39Q-39.4,22.6 -36.28,20.81Z" fill="url(#gt)" stroke="#56b0d2" stroke-width="0.6" stroke-opacity="0.55"/><g fill="none" stroke="#dcf4fc" stroke-width="1.35" stroke-linecap="round"><ellipse cx="0.3" cy="22.4" rx="12.3" ry="8"/><path d="M-6.1,9 C-6.1,12.9 -3.2,14.4 0.3,14.4 C3.8,14.4 6.7,12.9 6.7,9"/><path d="M-6.1,35.8 C-6.1,31.9 -3.2,30.4 0.3,30.4 C3.8,30.4 6.7,31.9 6.7,35.8"/><path d="M-23.5,18.3 C-16,18.3 -12.5,20.2 -12.5,22.4 C-12.5,24.6 -16,26.5 -23.5,26.5"/><path d="M24.1,18.3 C16.6,18.3 13.1,20.2 13.1,22.4 C13.1,24.6 16.6,26.5 24.1,26.5"/></g><g fill="#e4f7fd"><polygon points="-6.1,6.4 -3.5,10.3 -8.7,10.3"/><polygon points="6.7,6.4 9.3,10.3 4.1,10.3"/><polygon points="-6.1,38.4 -8.7,34.5 -3.5,34.5"/><polygon points="6.7,38.4 4.1,34.5 9.3,34.5"/><polygon points="-26.6,18.3 -22.7,15.7 -22.7,20.9"/><polygon points="-26.6,26.5 -22.7,23.9 -22.7,29.1"/><polygon points="27.2,18.3 23.3,20.9 23.3,15.7"/><polygon points="27.2,26.5 23.3,29.1 23.3,23.9"/></g><g fill="#f2f9fc" stroke="#f2f9fc" stroke-width="0.65" font-weight="bold" font-size="7.7"><text transform="translate(-36.6,37.6) skewY(29.1)" textLength="32.6" lengthAdjust="spacing">SWITCH</text><text transform="translate(5.2,55) skewY(-29.1) skewX(-5)" font-size="8.6" textLength="30.6" lengthAdjust="spacing">1000M</text></g></g><text x="0.4" y="26.4" font-size="11.4" font-weight="bold" fill="#f2f9fc" stroke="#f2f9fc" stroke-width="0.3" text-anchor="middle">L2</text></g><line x1="187.6" y1="843.2" x2="235" y2="843.2" stroke="#222" stroke-width="2" stroke-dasharray="2.8 2.25"/>
<g stroke="#e4d56c" stroke-width="1.4" fill="none"><polyline points="565.4,817 565.4,808.7 725.9,808.7 725.9,817"/><polyline points="525.8,884 525.8,879.6 605.8,879.6 605.8,884"/><polyline points="685.8,884 685.8,879.6 765.8,879.6 765.8,884"/></g><g transform="translate(565.4,814.9)"><g><path d="M-3.12,1.79Q0,0 3.12,1.79L36.28,20.81Q39.4,22.6 39.4,26.2L39.4,35.6Q39.4,39.2 36.28,40.99L3.12,60.01Q0,61.8 -3.12,60.01L-36.28,40.99Q-39.4,39.2 -39.4,35.6L-39.4,26.2Q-39.4,22.6 -36.28,20.81Z" fill="url(#gs)"/><path d="M-3.12,1.79Q0,0 3.12,1.79L36.28,20.81Q39.4,22.6 36.28,24.39L3.12,43.41Q0,45.2 -3.12,43.41L-36.28,24.39Q-39.4,22.6 -36.28,20.81Z" fill="url(#gt)" stroke="#56b0d2" stroke-width="0.6" stroke-opacity="0.55"/><g fill="none" stroke="#dcf4fc" stroke-width="1.35" stroke-linecap="round"><ellipse cx="0.3" cy="22.4" rx="12.3" ry="8"/><path d="M-6.1,9 C-6.1,12.9 -3.2,14.4 0.3,14.4 C3.8,14.4 6.7,12.9 6.7,9"/><path d="M-6.1,35.8 C-6.1,31.9 -3.2,30.4 0.3,30.4 C3.8,30.4 6.7,31.9 6.7,35.8"/><path d="M-23.5,18.3 C-16,18.3 -12.5,20.2 -12.5,22.4 C-12.5,24.6 -16,26.5 -23.5,26.5"/><path d="M24.1,18.3 C16.6,18.3 13.1,20.2 13.1,22.4 C13.1,24.6 16.6,26.5 24.1,26.5"/></g><g fill="#e4f7fd"><polygon points="-6.1,6.4 -3.5,10.3 -8.7,10.3"/><polygon points="6.7,6.4 9.3,10.3 4.1,10.3"/><polygon points="-6.1,38.4 -8.7,34.5 -3.5,34.5"/><polygon points="6.7,38.4 4.1,34.5 9.3,34.5"/><polygon points="-26.6,18.3 -22.7,15.7 -22.7,20.9"/><polygon points="-26.6,26.5 -22.7,23.9 -22.7,29.1"/><polygon points="27.2,18.3 23.3,20.9 23.3,15.7"/><polygon points="27.2,26.5 23.3,29.1 23.3,23.9"/></g><g fill="#f2f9fc" stroke="#f2f9fc" stroke-width="0.65" font-weight="bold" font-size="7.7"><text transform="translate(-36.6,37.6) skewY(29.1)" textLength="32.6" lengthAdjust="spacing">SWITCH</text><text transform="translate(5.2,55) skewY(-29.1) skewX(-5)" font-size="8.6" textLength="30.6" lengthAdjust="spacing">1000M</text></g></g><text x="0.4" y="26.4" font-size="11.4" font-weight="bold" fill="#f2f9fc" stroke="#f2f9fc" stroke-width="0.3" text-anchor="middle">L3</text></g><g transform="translate(725.9,814.9)"><g><path d="M-3.12,1.79Q0,0 3.12,1.79L36.28,20.81Q39.4,22.6 39.4,26.2L39.4,35.6Q39.4,39.2 36.28,40.99L3.12,60.01Q0,61.8 -3.12,60.01L-36.28,40.99Q-39.4,39.2 -39.4,35.6L-39.4,26.2Q-39.4,22.6 -36.28,20.81Z" fill="url(#gs)"/><path d="M-3.12,1.79Q0,0 3.12,1.79L36.28,20.81Q39.4,22.6 36.28,24.39L3.12,43.41Q0,45.2 -3.12,43.41L-36.28,24.39Q-39.4,22.6 -36.28,20.81Z" fill="url(#gt)" stroke="#56b0d2" stroke-width="0.6" stroke-opacity="0.55"/><g fill="none" stroke="#dcf4fc" stroke-width="1.35" stroke-linecap="round"><ellipse cx="0.3" cy="22.4" rx="12.3" ry="8"/><path d="M-6.1,9 C-6.1,12.9 -3.2,14.4 0.3,14.4 C3.8,14.4 6.7,12.9 6.7,9"/><path d="M-6.1,35.8 C-6.1,31.9 -3.2,30.4 0.3,30.4 C3.8,30.4 6.7,31.9 6.7,35.8"/><path d="M-23.5,18.3 C-16,18.3 -12.5,20.2 -12.5,22.4 C-12.5,24.6 -16,26.5 -23.5,26.5"/><path d="M24.1,18.3 C16.6,18.3 13.1,20.2 13.1,22.4 C13.1,24.6 16.6,26.5 24.1,26.5"/></g><g fill="#e4f7fd"><polygon points="-6.1,6.4 -3.5,10.3 -8.7,10.3"/><polygon points="6.7,6.4 9.3,10.3 4.1,10.3"/><polygon points="-6.1,38.4 -8.7,34.5 -3.5,34.5"/><polygon points="6.7,38.4 4.1,34.5 9.3,34.5"/><polygon points="-26.6,18.3 -22.7,15.7 -22.7,20.9"/><polygon points="-26.6,26.5 -22.7,23.9 -22.7,29.1"/><polygon points="27.2,18.3 23.3,20.9 23.3,15.7"/><polygon points="27.2,26.5 23.3,29.1 23.3,23.9"/></g><g fill="#f2f9fc" stroke="#f2f9fc" stroke-width="0.65" font-weight="bold" font-size="7.7"><text transform="translate(-36.6,37.6) skewY(29.1)" textLength="32.6" lengthAdjust="spacing">SWITCH</text><text transform="translate(5.2,55) skewY(-29.1) skewX(-5)" font-size="8.6" textLength="30.6" lengthAdjust="spacing">1000M</text></g></g><text x="0.4" y="26.4" font-size="11.4" font-weight="bold" fill="#f2f9fc" stroke="#f2f9fc" stroke-width="0.3" text-anchor="middle">L3</text></g><g transform="translate(525.8,882.2) scale(0.89)"><g><path d="M-3.12,1.79Q0,0 3.12,1.79L36.28,20.81Q39.4,22.6 39.4,26.2L39.4,35.6Q39.4,39.2 36.28,40.99L3.12,60.01Q0,61.8 -3.12,60.01L-36.28,40.99Q-39.4,39.2 -39.4,35.6L-39.4,26.2Q-39.4,22.6 -36.28,20.81Z" fill="url(#gs)"/><path d="M-3.12,1.79Q0,0 3.12,1.79L36.28,20.81Q39.4,22.6 36.28,24.39L3.12,43.41Q0,45.2 -3.12,43.41L-36.28,24.39Q-39.4,22.6 -36.28,20.81Z" fill="url(#gt)" stroke="#56b0d2" stroke-width="0.6" stroke-opacity="0.55"/><g fill="none" stroke="#dcf4fc" stroke-width="1.35" stroke-linecap="round"><ellipse cx="0.3" cy="22.4" rx="12.3" ry="8"/><path d="M-6.1,9 C-6.1,12.9 -3.2,14.4 0.3,14.4 C3.8,14.4 6.7,12.9 6.7,9"/><path d="M-6.1,35.8 C-6.1,31.9 -3.2,30.4 0.3,30.4 C3.8,30.4 6.7,31.9 6.7,35.8"/><path d="M-23.5,18.3 C-16,18.3 -12.5,20.2 -12.5,22.4 C-12.5,24.6 -16,26.5 -23.5,26.5"/><path d="M24.1,18.3 C16.6,18.3 13.1,20.2 13.1,22.4 C13.1,24.6 16.6,26.5 24.1,26.5"/></g><g fill="#e4f7fd"><polygon points="-6.1,6.4 -3.5,10.3 -8.7,10.3"/><polygon points="6.7,6.4 9.3,10.3 4.1,10.3"/><polygon points="-6.1,38.4 -8.7,34.5 -3.5,34.5"/><polygon points="6.7,38.4 4.1,34.5 9.3,34.5"/><polygon points="-26.6,18.3 -22.7,15.7 -22.7,20.9"/><polygon points="-26.6,26.5 -22.7,23.9 -22.7,29.1"/><polygon points="27.2,18.3 23.3,20.9 23.3,15.7"/><polygon points="27.2,26.5 23.3,29.1 23.3,23.9"/></g><g fill="#f2f9fc" stroke="#f2f9fc" stroke-width="0.65" font-weight="bold" font-size="7.7"><text transform="translate(-36.6,37.6) skewY(29.1)" textLength="32.6" lengthAdjust="spacing">SWITCH</text><text transform="translate(5.2,55) skewY(-29.1) skewX(-5)" font-size="8.6" textLength="30.6" lengthAdjust="spacing">1000M</text></g></g><text x="0.4" y="26.4" font-size="11.4" font-weight="bold" fill="#f2f9fc" stroke="#f2f9fc" stroke-width="0.3" text-anchor="middle">L2</text></g><g transform="translate(605.8,882.2) scale(0.89)"><g><path d="M-3.12,1.79Q0,0 3.12,1.79L36.28,20.81Q39.4,22.6 39.4,26.2L39.4,35.6Q39.4,39.2 36.28,40.99L3.12,60.01Q0,61.8 -3.12,60.01L-36.28,40.99Q-39.4,39.2 -39.4,35.6L-39.4,26.2Q-39.4,22.6 -36.28,20.81Z" fill="url(#gs)"/><path d="M-3.12,1.79Q0,0 3.12,1.79L36.28,20.81Q39.4,22.6 36.28,24.39L3.12,43.41Q0,45.2 -3.12,43.41L-36.28,24.39Q-39.4,22.6 -36.28,20.81Z" fill="url(#gt)" stroke="#56b0d2" stroke-width="0.6" stroke-opacity="0.55"/><g fill="none" stroke="#dcf4fc" stroke-width="1.35" stroke-linecap="round"><ellipse cx="0.3" cy="22.4" rx="12.3" ry="8"/><path d="M-6.1,9 C-6.1,12.9 -3.2,14.4 0.3,14.4 C3.8,14.4 6.7,12.9 6.7,9"/><path d="M-6.1,35.8 C-6.1,31.9 -3.2,30.4 0.3,30.4 C3.8,30.4 6.7,31.9 6.7,35.8"/><path d="M-23.5,18.3 C-16,18.3 -12.5,20.2 -12.5,22.4 C-12.5,24.6 -16,26.5 -23.5,26.5"/><path d="M24.1,18.3 C16.6,18.3 13.1,20.2 13.1,22.4 C13.1,24.6 16.6,26.5 24.1,26.5"/></g><g fill="#e4f7fd"><polygon points="-6.1,6.4 -3.5,10.3 -8.7,10.3"/><polygon points="6.7,6.4 9.3,10.3 4.1,10.3"/><polygon points="-6.1,38.4 -8.7,34.5 -3.5,34.5"/><polygon points="6.7,38.4 4.1,34.5 9.3,34.5"/><polygon points="-26.6,18.3 -22.7,15.7 -22.7,20.9"/><polygon points="-26.6,26.5 -22.7,23.9 -22.7,29.1"/><polygon points="27.2,18.3 23.3,20.9 23.3,15.7"/><polygon points="27.2,26.5 23.3,29.1 23.3,23.9"/></g><g fill="#f2f9fc" stroke="#f2f9fc" stroke-width="0.65" font-weight="bold" font-size="7.7"><text transform="translate(-36.6,37.6) skewY(29.1)" textLength="32.6" lengthAdjust="spacing">SWITCH</text><text transform="translate(5.2,55) skewY(-29.1) skewX(-5)" font-size="8.6" textLength="30.6" lengthAdjust="spacing">1000M</text></g></g><text x="0.4" y="26.4" font-size="11.4" font-weight="bold" fill="#f2f9fc" stroke="#f2f9fc" stroke-width="0.3" text-anchor="middle">L2</text></g><g transform="translate(685.8,882.2) scale(0.89)"><g><path d="M-3.12,1.79Q0,0 3.12,1.79L36.28,20.81Q39.4,22.6 39.4,26.2L39.4,35.6Q39.4,39.2 36.28,40.99L3.12,60.01Q0,61.8 -3.12,60.01L-36.28,40.99Q-39.4,39.2 -39.4,35.6L-39.4,26.2Q-39.4,22.6 -36.28,20.81Z" fill="url(#gs)"/><path d="M-3.12,1.79Q0,0 3.12,1.79L36.28,20.81Q39.4,22.6 36.28,24.39L3.12,43.41Q0,45.2 -3.12,43.41L-36.28,24.39Q-39.4,22.6 -36.28,20.81Z" fill="url(#gt)" stroke="#56b0d2" stroke-width="0.6" stroke-opacity="0.55"/><g fill="none" stroke="#dcf4fc" stroke-width="1.35" stroke-linecap="round"><ellipse cx="0.3" cy="22.4" rx="12.3" ry="8"/><path d="M-6.1,9 C-6.1,12.9 -3.2,14.4 0.3,14.4 C3.8,14.4 6.7,12.9 6.7,9"/><path d="M-6.1,35.8 C-6.1,31.9 -3.2,30.4 0.3,30.4 C3.8,30.4 6.7,31.9 6.7,35.8"/><path d="M-23.5,18.3 C-16,18.3 -12.5,20.2 -12.5,22.4 C-12.5,24.6 -16,26.5 -23.5,26.5"/><path d="M24.1,18.3 C16.6,18.3 13.1,20.2 13.1,22.4 C13.1,24.6 16.6,26.5 24.1,26.5"/></g><g fill="#e4f7fd"><polygon points="-6.1,6.4 -3.5,10.3 -8.7,10.3"/><polygon points="6.7,6.4 9.3,10.3 4.1,10.3"/><polygon points="-6.1,38.4 -8.7,34.5 -3.5,34.5"/><polygon points="6.7,38.4 4.1,34.5 9.3,34.5"/><polygon points="-26.6,18.3 -22.7,15.7 -22.7,20.9"/><polygon points="-26.6,26.5 -22.7,23.9 -22.7,29.1"/><polygon points="27.2,18.3 23.3,20.9 23.3,15.7"/><polygon points="27.2,26.5 23.3,29.1 23.3,23.9"/></g><g fill="#f2f9fc" stroke="#f2f9fc" stroke-width="0.65" font-weight="bold" font-size="7.7"><text transform="translate(-36.6,37.6) skewY(29.1)" textLength="32.6" lengthAdjust="spacing">SWITCH</text><text transform="translate(5.2,55) skewY(-29.1) skewX(-5)" font-size="8.6" textLength="30.6" lengthAdjust="spacing">1000M</text></g></g><text x="0.4" y="26.4" font-size="11.4" font-weight="bold" fill="#f2f9fc" stroke="#f2f9fc" stroke-width="0.3" text-anchor="middle">L2</text></g><g transform="translate(765.8,882.2) scale(0.89)"><g><path d="M-3.12,1.79Q0,0 3.12,1.79L36.28,20.81Q39.4,22.6 39.4,26.2L39.4,35.6Q39.4,39.2 36.28,40.99L3.12,60.01Q0,61.8 -3.12,60.01L-36.28,40.99Q-39.4,39.2 -39.4,35.6L-39.4,26.2Q-39.4,22.6 -36.28,20.81Z" fill="url(#gs)"/><path d="M-3.12,1.79Q0,0 3.12,1.79L36.28,20.81Q39.4,22.6 36.28,24.39L3.12,43.41Q0,45.2 -3.12,43.41L-36.28,24.39Q-39.4,22.6 -36.28,20.81Z" fill="url(#gt)" stroke="#56b0d2" stroke-width="0.6" stroke-opacity="0.55"/><g fill="none" stroke="#dcf4fc" stroke-width="1.35" stroke-linecap="round"><ellipse cx="0.3" cy="22.4" rx="12.3" ry="8"/><path d="M-6.1,9 C-6.1,12.9 -3.2,14.4 0.3,14.4 C3.8,14.4 6.7,12.9 6.7,9"/><path d="M-6.1,35.8 C-6.1,31.9 -3.2,30.4 0.3,30.4 C3.8,30.4 6.7,31.9 6.7,35.8"/><path d="M-23.5,18.3 C-16,18.3 -12.5,20.2 -12.5,22.4 C-12.5,24.6 -16,26.5 -23.5,26.5"/><path d="M24.1,18.3 C16.6,18.3 13.1,20.2 13.1,22.4 C13.1,24.6 16.6,26.5 24.1,26.5"/></g><g fill="#e4f7fd"><polygon points="-6.1,6.4 -3.5,10.3 -8.7,10.3"/><polygon points="6.7,6.4 9.3,10.3 4.1,10.3"/><polygon points="-6.1,38.4 -8.7,34.5 -3.5,34.5"/><polygon points="6.7,38.4 4.1,34.5 9.3,34.5"/><polygon points="-26.6,18.3 -22.7,15.7 -22.7,20.9"/><polygon points="-26.6,26.5 -22.7,23.9 -22.7,29.1"/><polygon points="27.2,18.3 23.3,20.9 23.3,15.7"/><polygon points="27.2,26.5 23.3,29.1 23.3,23.9"/></g><g fill="#f2f9fc" stroke="#f2f9fc" stroke-width="0.65" font-weight="bold" font-size="7.7"><text transform="translate(-36.6,37.6) skewY(29.1)" textLength="32.6" lengthAdjust="spacing">SWITCH</text><text transform="translate(5.2,55) skewY(-29.1) skewX(-5)" font-size="8.6" textLength="30.6" lengthAdjust="spacing">1000M</text></g></g><text x="0.4" y="26.4" font-size="11.4" font-weight="bold" fill="#f2f9fc" stroke="#f2f9fc" stroke-width="0.3" text-anchor="middle">L2</text></g><line x1="619.6" y1="843.2" x2="667" y2="843.2" stroke="#222" stroke-width="2" stroke-dasharray="2.8 2.25"/>
<g stroke="#e4d56c" stroke-width="1.4" fill="none"><polyline points="985,817 985,808.7 1145.5,808.7 1145.5,817"/><polyline points="945.5,884 945.5,879.6 1025.5,879.6 1025.5,884"/><polyline points="1105.5,884 1105.5,879.6 1185.5,879.6 1185.5,884"/></g><g transform="translate(985,814.9)"><g><path d="M-3.12,1.79Q0,0 3.12,1.79L36.28,20.81Q39.4,22.6 39.4,26.2L39.4,35.6Q39.4,39.2 36.28,40.99L3.12,60.01Q0,61.8 -3.12,60.01L-36.28,40.99Q-39.4,39.2 -39.4,35.6L-39.4,26.2Q-39.4,22.6 -36.28,20.81Z" fill="url(#gs)"/><path d="M-3.12,1.79Q0,0 3.12,1.79L36.28,20.81Q39.4,22.6 36.28,24.39L3.12,43.41Q0,45.2 -3.12,43.41L-36.28,24.39Q-39.4,22.6 -36.28,20.81Z" fill="url(#gt)" stroke="#56b0d2" stroke-width="0.6" stroke-opacity="0.55"/><g fill="none" stroke="#dcf4fc" stroke-width="1.35" stroke-linecap="round"><ellipse cx="0.3" cy="22.4" rx="12.3" ry="8"/><path d="M-6.1,9 C-6.1,12.9 -3.2,14.4 0.3,14.4 C3.8,14.4 6.7,12.9 6.7,9"/><path d="M-6.1,35.8 C-6.1,31.9 -3.2,30.4 0.3,30.4 C3.8,30.4 6.7,31.9 6.7,35.8"/><path d="M-23.5,18.3 C-16,18.3 -12.5,20.2 -12.5,22.4 C-12.5,24.6 -16,26.5 -23.5,26.5"/><path d="M24.1,18.3 C16.6,18.3 13.1,20.2 13.1,22.4 C13.1,24.6 16.6,26.5 24.1,26.5"/></g><g fill="#e4f7fd"><polygon points="-6.1,6.4 -3.5,10.3 -8.7,10.3"/><polygon points="6.7,6.4 9.3,10.3 4.1,10.3"/><polygon points="-6.1,38.4 -8.7,34.5 -3.5,34.5"/><polygon points="6.7,38.4 4.1,34.5 9.3,34.5"/><polygon points="-26.6,18.3 -22.7,15.7 -22.7,20.9"/><polygon points="-26.6,26.5 -22.7,23.9 -22.7,29.1"/><polygon points="27.2,18.3 23.3,20.9 23.3,15.7"/><polygon points="27.2,26.5 23.3,29.1 23.3,23.9"/></g><g fill="#f2f9fc" stroke="#f2f9fc" stroke-width="0.65" font-weight="bold" font-size="7.7"><text transform="translate(-36.6,37.6) skewY(29.1)" textLength="32.6" lengthAdjust="spacing">SWITCH</text><text transform="translate(5.2,55) skewY(-29.1) skewX(-5)" font-size="8.6" textLength="30.6" lengthAdjust="spacing">1000M</text></g></g><text x="0.4" y="26.4" font-size="11.4" font-weight="bold" fill="#f2f9fc" stroke="#f2f9fc" stroke-width="0.3" text-anchor="middle">L3</text></g><g transform="translate(1145.5,814.9)"><g><path d="M-3.12,1.79Q0,0 3.12,1.79L36.28,20.81Q39.4,22.6 39.4,26.2L39.4,35.6Q39.4,39.2 36.28,40.99L3.12,60.01Q0,61.8 -3.12,60.01L-36.28,40.99Q-39.4,39.2 -39.4,35.6L-39.4,26.2Q-39.4,22.6 -36.28,20.81Z" fill="url(#gs)"/><path d="M-3.12,1.79Q0,0 3.12,1.79L36.28,20.81Q39.4,22.6 36.28,24.39L3.12,43.41Q0,45.2 -3.12,43.41L-36.28,24.39Q-39.4,22.6 -36.28,20.81Z" fill="url(#gt)" stroke="#56b0d2" stroke-width="0.6" stroke-opacity="0.55"/><g fill="none" stroke="#dcf4fc" stroke-width="1.35" stroke-linecap="round"><ellipse cx="0.3" cy="22.4" rx="12.3" ry="8"/><path d="M-6.1,9 C-6.1,12.9 -3.2,14.4 0.3,14.4 C3.8,14.4 6.7,12.9 6.7,9"/><path d="M-6.1,35.8 C-6.1,31.9 -3.2,30.4 0.3,30.4 C3.8,30.4 6.7,31.9 6.7,35.8"/><path d="M-23.5,18.3 C-16,18.3 -12.5,20.2 -12.5,22.4 C-12.5,24.6 -16,26.5 -23.5,26.5"/><path d="M24.1,18.3 C16.6,18.3 13.1,20.2 13.1,22.4 C13.1,24.6 16.6,26.5 24.1,26.5"/></g><g fill="#e4f7fd"><polygon points="-6.1,6.4 -3.5,10.3 -8.7,10.3"/><polygon points="6.7,6.4 9.3,10.3 4.1,10.3"/><polygon points="-6.1,38.4 -8.7,34.5 -3.5,34.5"/><polygon points="6.7,38.4 4.1,34.5 9.3,34.5"/><polygon points="-26.6,18.3 -22.7,15.7 -22.7,20.9"/><polygon points="-26.6,26.5 -22.7,23.9 -22.7,29.1"/><polygon points="27.2,18.3 23.3,20.9 23.3,15.7"/><polygon points="27.2,26.5 23.3,29.1 23.3,23.9"/></g><g fill="#f2f9fc" stroke="#f2f9fc" stroke-width="0.65" font-weight="bold" font-size="7.7"><text transform="translate(-36.6,37.6) skewY(29.1)" textLength="32.6" lengthAdjust="spacing">SWITCH</text><text transform="translate(5.2,55) skewY(-29.1) skewX(-5)" font-size="8.6" textLength="30.6" lengthAdjust="spacing">1000M</text></g></g><text x="0.4" y="26.4" font-size="11.4" font-weight="bold" fill="#f2f9fc" stroke="#f2f9fc" stroke-width="0.3" text-anchor="middle">L3</text></g><g transform="translate(945.5,882.2) scale(0.89)"><g><path d="M-3.12,1.79Q0,0 3.12,1.79L36.28,20.81Q39.4,22.6 39.4,26.2L39.4,35.6Q39.4,39.2 36.28,40.99L3.12,60.01Q0,61.8 -3.12,60.01L-36.28,40.99Q-39.4,39.2 -39.4,35.6L-39.4,26.2Q-39.4,22.6 -36.28,20.81Z" fill="url(#gs)"/><path d="M-3.12,1.79Q0,0 3.12,1.79L36.28,20.81Q39.4,22.6 36.28,24.39L3.12,43.41Q0,45.2 -3.12,43.41L-36.28,24.39Q-39.4,22.6 -36.28,20.81Z" fill="url(#gt)" stroke="#56b0d2" stroke-width="0.6" stroke-opacity="0.55"/><g fill="none" stroke="#dcf4fc" stroke-width="1.35" stroke-linecap="round"><ellipse cx="0.3" cy="22.4" rx="12.3" ry="8"/><path d="M-6.1,9 C-6.1,12.9 -3.2,14.4 0.3,14.4 C3.8,14.4 6.7,12.9 6.7,9"/><path d="M-6.1,35.8 C-6.1,31.9 -3.2,30.4 0.3,30.4 C3.8,30.4 6.7,31.9 6.7,35.8"/><path d="M-23.5,18.3 C-16,18.3 -12.5,20.2 -12.5,22.4 C-12.5,24.6 -16,26.5 -23.5,26.5"/><path d="M24.1,18.3 C16.6,18.3 13.1,20.2 13.1,22.4 C13.1,24.6 16.6,26.5 24.1,26.5"/></g><g fill="#e4f7fd"><polygon points="-6.1,6.4 -3.5,10.3 -8.7,10.3"/><polygon points="6.7,6.4 9.3,10.3 4.1,10.3"/><polygon points="-6.1,38.4 -8.7,34.5 -3.5,34.5"/><polygon points="6.7,38.4 4.1,34.5 9.3,34.5"/><polygon points="-26.6,18.3 -22.7,15.7 -22.7,20.9"/><polygon points="-26.6,26.5 -22.7,23.9 -22.7,29.1"/><polygon points="27.2,18.3 23.3,20.9 23.3,15.7"/><polygon points="27.2,26.5 23.3,29.1 23.3,23.9"/></g><g fill="#f2f9fc" stroke="#f2f9fc" stroke-width="0.65" font-weight="bold" font-size="7.7"><text transform="translate(-36.6,37.6) skewY(29.1)" textLength="32.6" lengthAdjust="spacing">SWITCH</text><text transform="translate(5.2,55) skewY(-29.1) skewX(-5)" font-size="8.6" textLength="30.6" lengthAdjust="spacing">1000M</text></g></g><text x="0.4" y="26.4" font-size="11.4" font-weight="bold" fill="#f2f9fc" stroke="#f2f9fc" stroke-width="0.3" text-anchor="middle">L2</text></g><g transform="translate(1025.5,882.2) scale(0.89)"><g><path d="M-3.12,1.79Q0,0 3.12,1.79L36.28,20.81Q39.4,22.6 39.4,26.2L39.4,35.6Q39.4,39.2 36.28,40.99L3.12,60.01Q0,61.8 -3.12,60.01L-36.28,40.99Q-39.4,39.2 -39.4,35.6L-39.4,26.2Q-39.4,22.6 -36.28,20.81Z" fill="url(#gs)"/><path d="M-3.12,1.79Q0,0 3.12,1.79L36.28,20.81Q39.4,22.6 36.28,24.39L3.12,43.41Q0,45.2 -3.12,43.41L-36.28,24.39Q-39.4,22.6 -36.28,20.81Z" fill="url(#gt)" stroke="#56b0d2" stroke-width="0.6" stroke-opacity="0.55"/><g fill="none" stroke="#dcf4fc" stroke-width="1.35" stroke-linecap="round"><ellipse cx="0.3" cy="22.4" rx="12.3" ry="8"/><path d="M-6.1,9 C-6.1,12.9 -3.2,14.4 0.3,14.4 C3.8,14.4 6.7,12.9 6.7,9"/><path d="M-6.1,35.8 C-6.1,31.9 -3.2,30.4 0.3,30.4 C3.8,30.4 6.7,31.9 6.7,35.8"/><path d="M-23.5,18.3 C-16,18.3 -12.5,20.2 -12.5,22.4 C-12.5,24.6 -16,26.5 -23.5,26.5"/><path d="M24.1,18.3 C16.6,18.3 13.1,20.2 13.1,22.4 C13.1,24.6 16.6,26.5 24.1,26.5"/></g><g fill="#e4f7fd"><polygon points="-6.1,6.4 -3.5,10.3 -8.7,10.3"/><polygon points="6.7,6.4 9.3,10.3 4.1,10.3"/><polygon points="-6.1,38.4 -8.7,34.5 -3.5,34.5"/><polygon points="6.7,38.4 4.1,34.5 9.3,34.5"/><polygon points="-26.6,18.3 -22.7,15.7 -22.7,20.9"/><polygon points="-26.6,26.5 -22.7,23.9 -22.7,29.1"/><polygon points="27.2,18.3 23.3,20.9 23.3,15.7"/><polygon points="27.2,26.5 23.3,29.1 23.3,23.9"/></g><g fill="#f2f9fc" stroke="#f2f9fc" stroke-width="0.65" font-weight="bold" font-size="7.7"><text transform="translate(-36.6,37.6) skewY(29.1)" textLength="32.6" lengthAdjust="spacing">SWITCH</text><text transform="translate(5.2,55) skewY(-29.1) skewX(-5)" font-size="8.6" textLength="30.6" lengthAdjust="spacing">1000M</text></g></g><text x="0.4" y="26.4" font-size="11.4" font-weight="bold" fill="#f2f9fc" stroke="#f2f9fc" stroke-width="0.3" text-anchor="middle">L2</text></g><g transform="translate(1105.5,882.2) scale(0.89)"><g><path d="M-3.12,1.79Q0,0 3.12,1.79L36.28,20.81Q39.4,22.6 39.4,26.2L39.4,35.6Q39.4,39.2 36.28,40.99L3.12,60.01Q0,61.8 -3.12,60.01L-36.28,40.99Q-39.4,39.2 -39.4,35.6L-39.4,26.2Q-39.4,22.6 -36.28,20.81Z" fill="url(#gs)"/><path d="M-3.12,1.79Q0,0 3.12,1.79L36.28,20.81Q39.4,22.6 36.28,24.39L3.12,43.41Q0,45.2 -3.12,43.41L-36.28,24.39Q-39.4,22.6 -36.28,20.81Z" fill="url(#gt)" stroke="#56b0d2" stroke-width="0.6" stroke-opacity="0.55"/><g fill="none" stroke="#dcf4fc" stroke-width="1.35" stroke-linecap="round"><ellipse cx="0.3" cy="22.4" rx="12.3" ry="8"/><path d="M-6.1,9 C-6.1,12.9 -3.2,14.4 0.3,14.4 C3.8,14.4 6.7,12.9 6.7,9"/><path d="M-6.1,35.8 C-6.1,31.9 -3.2,30.4 0.3,30.4 C3.8,30.4 6.7,31.9 6.7,35.8"/><path d="M-23.5,18.3 C-16,18.3 -12.5,20.2 -12.5,22.4 C-12.5,24.6 -16,26.5 -23.5,26.5"/><path d="M24.1,18.3 C16.6,18.3 13.1,20.2 13.1,22.4 C13.1,24.6 16.6,26.5 24.1,26.5"/></g><g fill="#e4f7fd"><polygon points="-6.1,6.4 -3.5,10.3 -8.7,10.3"/><polygon points="6.7,6.4 9.3,10.3 4.1,10.3"/><polygon points="-6.1,38.4 -8.7,34.5 -3.5,34.5"/><polygon points="6.7,38.4 4.1,34.5 9.3,34.5"/><polygon points="-26.6,18.3 -22.7,15.7 -22.7,20.9"/><polygon points="-26.6,26.5 -22.7,23.9 -22.7,29.1"/><polygon points="27.2,18.3 23.3,20.9 23.3,15.7"/><polygon points="27.2,26.5 23.3,29.1 23.3,23.9"/></g><g fill="#f2f9fc" stroke="#f2f9fc" stroke-width="0.65" font-weight="bold" font-size="7.7"><text transform="translate(-36.6,37.6) skewY(29.1)" textLength="32.6" lengthAdjust="spacing">SWITCH</text><text transform="translate(5.2,55) skewY(-29.1) skewX(-5)" font-size="8.6" textLength="30.6" lengthAdjust="spacing">1000M</text></g></g><text x="0.4" y="26.4" font-size="11.4" font-weight="bold" fill="#f2f9fc" stroke="#f2f9fc" stroke-width="0.3" text-anchor="middle">L2</text></g><g transform="translate(1185.5,882.2) scale(0.89)"><g><path d="M-3.12,1.79Q0,0 3.12,1.79L36.28,20.81Q39.4,22.6 39.4,26.2L39.4,35.6Q39.4,39.2 36.28,40.99L3.12,60.01Q0,61.8 -3.12,60.01L-36.28,40.99Q-39.4,39.2 -39.4,35.6L-39.4,26.2Q-39.4,22.6 -36.28,20.81Z" fill="url(#gs)"/><path d="M-3.12,1.79Q0,0 3.12,1.79L36.28,20.81Q39.4,22.6 36.28,24.39L3.12,43.41Q0,45.2 -3.12,43.41L-36.28,24.39Q-39.4,22.6 -36.28,20.81Z" fill="url(#gt)" stroke="#56b0d2" stroke-width="0.6" stroke-opacity="0.55"/><g fill="none" stroke="#dcf4fc" stroke-width="1.35" stroke-linecap="round"><ellipse cx="0.3" cy="22.4" rx="12.3" ry="8"/><path d="M-6.1,9 C-6.1,12.9 -3.2,14.4 0.3,14.4 C3.8,14.4 6.7,12.9 6.7,9"/><path d="M-6.1,35.8 C-6.1,31.9 -3.2,30.4 0.3,30.4 C3.8,30.4 6.7,31.9 6.7,35.8"/><path d="M-23.5,18.3 C-16,18.3 -12.5,20.2 -12.5,22.4 C-12.5,24.6 -16,26.5 -23.5,26.5"/><path d="M24.1,18.3 C16.6,18.3 13.1,20.2 13.1,22.4 C13.1,24.6 16.6,26.5 24.1,26.5"/></g><g fill="#e4f7fd"><polygon points="-6.1,6.4 -3.5,10.3 -8.7,10.3"/><polygon points="6.7,6.4 9.3,10.3 4.1,10.3"/><polygon points="-6.1,38.4 -8.7,34.5 -3.5,34.5"/><polygon points="6.7,38.4 4.1,34.5 9.3,34.5"/><polygon points="-26.6,18.3 -22.7,15.7 -22.7,20.9"/><polygon points="-26.6,26.5 -22.7,23.9 -22.7,29.1"/><polygon points="27.2,18.3 23.3,20.9 23.3,15.7"/><polygon points="27.2,26.5 23.3,29.1 23.3,23.9"/></g><g fill="#f2f9fc" stroke="#f2f9fc" stroke-width="0.65" font-weight="bold" font-size="7.7"><text transform="translate(-36.6,37.6) skewY(29.1)" textLength="32.6" lengthAdjust="spacing">SWITCH</text><text transform="translate(5.2,55) skewY(-29.1) skewX(-5)" font-size="8.6" textLength="30.6" lengthAdjust="spacing">1000M</text></g></g><text x="0.4" y="26.4" font-size="11.4" font-weight="bold" fill="#f2f9fc" stroke="#f2f9fc" stroke-width="0.3" text-anchor="middle">L2</text></g><line x1="1041.6" y1="843.2" x2="1089" y2="843.2" stroke="#222" stroke-width="2" stroke-dasharray="2.8 2.25"/>
<rect x="0.8" y="943" width="1263.4" height="110.4" rx="9" fill="none" stroke="#c4a3aa" stroke-width="1.3"/>
<g transform="translate(0,0)"><g transform="translate(88,950.4)"><path d="M-2.29,1.24Q0,0 2.29,1.24L14.91,8.06Q17.2,9.3 17.2,11.9L17.2,14.7Q17.2,17.3 14.91,18.54L2.29,25.36Q0,26.6 -2.29,25.36L-14.91,18.54Q-17.2,17.3 -17.2,14.7L-17.2,11.9Q-17.2,9.3 -14.91,8.06Z" fill="url(#gs)"/><path d="M-2.29,1.24Q0,0 2.29,1.24L14.91,8.06Q17.2,9.3 14.91,10.54L2.29,17.36Q0,18.6 -2.29,17.36L-14.91,10.54Q-17.2,9.3 -14.91,8.06Z" fill="url(#gt)" stroke="#56b0d2" stroke-width="0.6" stroke-opacity="0.55"/><polygon points="-0.4,7.4 1.6,12.6 -2.4,12.6" fill="#f2f9fc"/><g fill="none" stroke="#e4f2f8" stroke-width="0.9" stroke-linecap="round"><path d="M-3,5.2 C-4.4,7 -4.4,9.4 -3,11.2"/><path d="M-5,4.4 C-6.6,6.6 -6.6,9.8 -5,12"/><path d="M2.2,5.2 C3.6,7 3.6,9.4 2.2,11.2"/><path d="M4.2,4.4 C5.8,6.6 5.8,9.8 4.2,12"/></g><text transform="translate(-14.4,17.2) skewY(29)" font-size="4.4" font-weight="bold" fill="#eef7fb" textLength="10.5" lengthAdjust="spacingAndGlyphs">WLAN</text></g><g transform="translate(88.7,987.4)" fill="none" stroke="#2a81b1" stroke-width="5.2"><path d="M-8.8,-1.6 Q-1.6,6.4 5.6,-2.8"/><path d="M-12.9,4.1 Q-1,18.1 11.7,2.9"/><path d="M-16.5,9.6 Q-0.6,29.3 16.3,8.2"/></g><g transform="translate(27.5,1009.5)"><polygon points="0.2,27 17,17.6 37,26 20.4,39" fill="#dfe3e6" stroke="#b4bbc0" stroke-width="0.6"/><polygon points="8.8,24.6 18,20 33.6,27 24.6,32.6" fill="#3c3a40" stroke="#3c3a40" stroke-width="0.6" stroke-linejoin="round"/><polygon points="8.8,30.8 13.2,28.4 17,30.2 12.6,33" fill="#9aa3ab" stroke="#9aa3ab" stroke-width="0.6" stroke-linejoin="round"/><polygon points="18.4,0 40.2,8.8 37,26.2 17,17.6" fill="#cfe7f2" stroke="#cfe7f2" stroke-width="0.6" stroke-linejoin="round"/><polygon points="19.4,1.6 39,9.6 36.2,24.6 18.2,17" fill="url(#gph2)" stroke="url(#gph2)" stroke-width="0.6" stroke-linejoin="round"/></g><g transform="translate(94,1019)"><path d="M4.55,21.87Q0.2,19.4 4.38,16.66L24.42,3.54Q28.6,0.8 33.18,2.81L40.42,5.99Q45,8 40.94,10.92L20.46,25.68Q16.4,28.6 12.05,26.13Z" fill="#8d9399"/><path d="M4.57,20.43Q0.2,18 4.4,15.28L24.4,2.32Q28.6,-0.4 33.2,1.56L40.4,4.64Q45,6.6 40.93,9.5L20.47,24.1Q16.4,27 12.03,24.57Z" fill="url(#gsv)"/><polygon points="7.2,17 28,3 41.4,8.6 19.2,22.4" fill="url(#gph)" stroke="url(#gph)" stroke-width="0.6" stroke-linejoin="round"/><polygon points="6,20 8.6,18.6 13.6,21 11,22.6" fill="#3f4248" stroke="#3f4248" stroke-width="0.6" stroke-linejoin="round"/><path d="M3.6,19.6 L5.6,18.6 M13.4,23.6 L15.6,22.4" stroke="#6a6f76" stroke-width="0.9"/></g><g transform="translate(163.3,948.3)"><polygon points="0,10.8 19.6,0 28.5,5 9.5,15.9" fill="#3a9cc8" stroke="#3a9cc8" stroke-width="0.6" stroke-linejoin="round"/><polygon points="0,10.8 9.5,15.9 9.5,42.4 0,36.7" fill="#2f8cbc" stroke="#2f8cbc" stroke-width="0.6" stroke-linejoin="round"/><polygon points="9.5,15.9 28.5,5 28.5,31.7 9.5,42.4" fill="#2478ab" stroke="#2478ab" stroke-width="0.6" stroke-linejoin="round"/><polygon points="16.4,39.3 29.7,48.1 37.3,44.3 24,36" fill="#3a9cc8" stroke="#3a9cc8" stroke-width="0.6" stroke-linejoin="round"/><polygon points="16.4,39.3 29.7,48.1 29.7,49.3 16.4,40.6" fill="#2478ab" stroke="#2478ab" stroke-width="0.6" stroke-linejoin="round"/><polygon points="22,33 28,36 28,43 22,40" fill="#2b84b4" stroke="#2b84b4" stroke-width="0.6" stroke-linejoin="round"/><polygon points="15.2,7 17.4,6 44.6,19 42.6,19.7" fill="#3a9cc8" stroke="#3a9cc8" stroke-width="0.6" stroke-linejoin="round"/><polygon points="42.6,19.7 44.6,19 44.6,45 42.6,46" fill="#173f6c" stroke="#173f6c" stroke-width="0.6" stroke-linejoin="round"/><polygon points="15.2,7 42.6,19.7 42.6,46 15.2,31.7" fill="#2a82b4" stroke="#2a82b4" stroke-width="0.6" stroke-linejoin="round"/><polygon points="17.4,10.4 40.6,21.2 40.6,42.4 17.4,30.4" fill="#b9b8bd" stroke="#b9b8bd" stroke-width="0.6" stroke-linejoin="round"/></g><g transform="translate(164.6,1005.3)"><path d="M0.43,18Q0.3,16 2.12,15.17L21.58,6.23Q23.4,5.4 25.25,6.16L42.75,13.34Q44.6,14.1 44.6,16.1L44.6,27.6Q44.6,29.6 42.89,30.64L21.11,43.96Q19.4,45 17.61,44.11L3.39,37.09Q1.6,36.2 1.47,34.2Z" fill="#2a7fb0"/><path d="M0.14,17.8Q0,15.8 1.84,16.59L20.26,24.51Q22.1,25.3 21.83,27.28L19.67,43.42Q19.4,45.4 17.61,44.51L3.19,37.29Q1.4,36.4 1.26,34.4Z" fill="url(#gl)"/><path d="M21.83,27.28Q22.1,25.3 23.89,24.41L43.11,14.79Q44.9,13.9 44.9,15.9L44.9,27.8Q44.9,29.8 43.19,30.84L21.11,44.36Q19.4,45.4 19.67,43.42Z" fill="url(#gd)"/><path d="M1.84,16.59Q0,15.8 1.82,14.97L21.58,5.93Q23.4,5.1 25.25,5.86L43.05,13.14Q44.9,13.9 43.11,14.79L23.89,24.41Q22.1,25.3 20.26,24.51Z" fill="#2f8dbd"/><polygon points="10.6,14 23.6,8.2 35.4,13.2 22.4,19.8" fill="#dfe9ef" stroke="#dfe9ef" stroke-width="0.6" stroke-linejoin="round"/><path d="M11.4,10.1 C14,4 17,0.6 19.6,0 L29.7,7.6 C27,9 25.6,13 24.6,19 Z" fill="#f4f6f8"/><path d="M-3,32.4 L2,32.4" stroke="#2a7fb0" stroke-width="1.4"/></g><g transform="translate(255,949)"><ellipse cx="28" cy="41.6" rx="10" ry="5.6" fill="#2d8abb"/><path d="M18,36.6 L18,41.6 A10,5.6 0 0 0 38,41.6 L38,36.6 Z" fill="#2d8abb"/><ellipse cx="28" cy="37.6" rx="8.6" ry="4.6" fill="#3b9ecb"/><path d="M21.6,22 L21.6,37 A6.6,3.6 0 0 0 36.4,37 L36.4,22 Z" fill="url(#gdm)"/><polygon points="0,19 31.7,0 43.7,5.7 12,24.6" fill="#2f8dbd" stroke="#2f8dbd" stroke-width="0.6" stroke-linejoin="round"/><polygon points="0,19 12,24.6 12,27 0,21.4" fill="#2478ab" stroke="#2478ab" stroke-width="0.6" stroke-linejoin="round"/><polygon points="3.4,22.8 14.4,28 14.4,37 3.4,31.8" fill="#3a9ccb" stroke="#3a9ccb" stroke-width="0.6" stroke-linejoin="round"/><polygon points="14.4,28 43.7,10.6 43.7,19.4 14.4,37" fill="#2f8ec0" stroke="#2f8ec0" stroke-width="0.6" stroke-linejoin="round"/><polygon points="12,24.6 43.7,5.7 43.7,10.6 12,29.4" fill="#2679ad" stroke="#2679ad" stroke-width="0.6" stroke-linejoin="round"/></g><g transform="translate(262.7,1009)"><path d="M0,9 C0,-3 36,-3 36,9 L36,20 C36,31 28,40 18,40 C8,40 0,31 0,20 Z" fill="url(#gdm)"/><ellipse cx="18" cy="8.6" rx="18" ry="8.4" fill="#3a9bc8"/><path d="M0,17.6 C4,26 32,26 36,17.6" fill="none" stroke="#4aa8d0" stroke-width="1" opacity="0.8"/><path d="M3,24 C8,31 28,31 33,24" fill="none" stroke="#2478ab" stroke-width="0.8" opacity="0.6"/></g><g transform="translate(363,954.2)"><path d="M-3.05,1.71Q0,0 3.05,1.71L21.15,11.89Q24.2,13.6 24.2,17.1L24.2,20.7Q24.2,24.2 21.15,25.91L3.05,36.09Q0,37.8 -3.05,36.09L-21.15,25.91Q-24.2,24.2 -24.2,20.7L-24.2,17.1Q-24.2,13.6 -21.15,11.89Z" fill="url(#gs)"/><path d="M-3.05,1.71Q0,0 3.05,1.71L21.15,11.89Q24.2,13.6 21.15,15.31L3.05,25.49Q0,27.2 -3.05,25.49L-21.15,15.31Q-24.2,13.6 -21.15,11.89Z" fill="url(#gt)" stroke="#56b0d2" stroke-width="0.6" stroke-opacity="0.55"/><path d="M-10.5,13.2 L-6,9.6 C-3,7 5,6.6 9.5,9.2 C13,11.2 11.5,14.6 8,16 C4.5,17.4 -1,17.8 -3,16.4 C-5.5,14.6 -7.5,13 -12.5,15.4 Z" fill="#f7fbfd"/><ellipse cx="5" cy="12" rx="3.6" ry="1.6" fill="#f4c9c9" opacity="0.8"/><text transform="translate(8.4,30.2) skewY(-29.5) skewX(-14)" font-size="5" font-weight="bold" fill="#e4f2f8">VoIP</text></g><g transform="translate(336.4,1009)"><path d="M0,20.5Q0,18.6 3.9,15.48L16.1,5.72Q20,2.6 24.3,5.15L47.7,19.05Q52,21.6 52,23.3L52,23.3Q52,25 47.83,27.76L34.17,36.84Q30,39.6 25.66,37.11L4.34,24.89Q0,22.4 0,20.5Z" fill="#2478ab"/><path d="M4.98,20.75Q0,17.4 4.69,13.65L15.31,5.15Q20,1.4 25.16,4.46L46.84,17.34Q52,20.4 47.27,24.1L34.73,33.9Q30,37.6 25.02,34.25Z" fill="#2f8dbd"/><path d="M4.52,17.35Q1.6,15.6 4.18,13.38L16.42,2.82Q19,0.6 21.98,2.24L24.02,3.36Q27,5 24.45,7.25L12.15,18.15Q9.6,20.4 6.68,18.65Z" fill="#3a9ccb"/><path d="M8.6,17.6 L21,8.6" stroke="#1d5f92" stroke-width="1.4"/><path d="M20.76,27.26Q18.6,26 20.67,24.6L34.93,15Q37,13.6 39.19,14.81L47.41,19.39Q49.6,20.6 47.57,22.06L33.63,32.14Q31.6,33.6 29.44,32.34Z" fill="#f2f7fa"/><polygon points="27.4,22.6 37.4,16 45.6,20.6 35.6,27.4" fill="#1f6da6" stroke="#1f6da6" stroke-width="0.6" stroke-linejoin="round"/><ellipse cx="25.6" cy="28.6" rx="3.2" ry="2.2" fill="#f7fafc" stroke="#2a7fb0" stroke-width="0.9"/><path d="M21,14.6 L26,17.4 M23,13 L28,15.8" stroke="#bfe1f0" stroke-width="0.8"/></g></g><g transform="translate(435,0)"><g transform="translate(88,950.4)"><path d="M-2.29,1.24Q0,0 2.29,1.24L14.91,8.06Q17.2,9.3 17.2,11.9L17.2,14.7Q17.2,17.3 14.91,18.54L2.29,25.36Q0,26.6 -2.29,25.36L-14.91,18.54Q-17.2,17.3 -17.2,14.7L-17.2,11.9Q-17.2,9.3 -14.91,8.06Z" fill="url(#gs)"/><path d="M-2.29,1.24Q0,0 2.29,1.24L14.91,8.06Q17.2,9.3 14.91,10.54L2.29,17.36Q0,18.6 -2.29,17.36L-14.91,10.54Q-17.2,9.3 -14.91,8.06Z" fill="url(#gt)" stroke="#56b0d2" stroke-width="0.6" stroke-opacity="0.55"/><polygon points="-0.4,7.4 1.6,12.6 -2.4,12.6" fill="#f2f9fc"/><g fill="none" stroke="#e4f2f8" stroke-width="0.9" stroke-linecap="round"><path d="M-3,5.2 C-4.4,7 -4.4,9.4 -3,11.2"/><path d="M-5,4.4 C-6.6,6.6 -6.6,9.8 -5,12"/><path d="M2.2,5.2 C3.6,7 3.6,9.4 2.2,11.2"/><path d="M4.2,4.4 C5.8,6.6 5.8,9.8 4.2,12"/></g><text transform="translate(-14.4,17.2) skewY(29)" font-size="4.4" font-weight="bold" fill="#eef7fb" textLength="10.5" lengthAdjust="spacingAndGlyphs">WLAN</text></g><g transform="translate(88.7,987.4)" fill="none" stroke="#2a81b1" stroke-width="5.2"><path d="M-8.8,-1.6 Q-1.6,6.4 5.6,-2.8"/><path d="M-12.9,4.1 Q-1,18.1 11.7,2.9"/><path d="M-16.5,9.6 Q-0.6,29.3 16.3,8.2"/></g><g transform="translate(27.5,1009.5)"><polygon points="0.2,27 17,17.6 37,26 20.4,39" fill="#dfe3e6" stroke="#b4bbc0" stroke-width="0.6"/><polygon points="8.8,24.6 18,20 33.6,27 24.6,32.6" fill="#3c3a40" stroke="#3c3a40" stroke-width="0.6" stroke-linejoin="round"/><polygon points="8.8,30.8 13.2,28.4 17,30.2 12.6,33" fill="#9aa3ab" stroke="#9aa3ab" stroke-width="0.6" stroke-linejoin="round"/><polygon points="18.4,0 40.2,8.8 37,26.2 17,17.6" fill="#cfe7f2" stroke="#cfe7f2" stroke-width="0.6" stroke-linejoin="round"/><polygon points="19.4,1.6 39,9.6 36.2,24.6 18.2,17" fill="url(#gph2)" stroke="url(#gph2)" stroke-width="0.6" stroke-linejoin="round"/></g><g transform="translate(94,1019)"><path d="M4.55,21.87Q0.2,19.4 4.38,16.66L24.42,3.54Q28.6,0.8 33.18,2.81L40.42,5.99Q45,8 40.94,10.92L20.46,25.68Q16.4,28.6 12.05,26.13Z" fill="#8d9399"/><path d="M4.57,20.43Q0.2,18 4.4,15.28L24.4,2.32Q28.6,-0.4 33.2,1.56L40.4,4.64Q45,6.6 40.93,9.5L20.47,24.1Q16.4,27 12.03,24.57Z" fill="url(#gsv)"/><polygon points="7.2,17 28,3 41.4,8.6 19.2,22.4" fill="url(#gph)" stroke="url(#gph)" stroke-width="0.6" stroke-linejoin="round"/><polygon points="6,20 8.6,18.6 13.6,21 11,22.6" fill="#3f4248" stroke="#3f4248" stroke-width="0.6" stroke-linejoin="round"/><path d="M3.6,19.6 L5.6,18.6 M13.4,23.6 L15.6,22.4" stroke="#6a6f76" stroke-width="0.9"/></g><g transform="translate(163.3,948.3)"><polygon points="0,10.8 19.6,0 28.5,5 9.5,15.9" fill="#3a9cc8" stroke="#3a9cc8" stroke-width="0.6" stroke-linejoin="round"/><polygon points="0,10.8 9.5,15.9 9.5,42.4 0,36.7" fill="#2f8cbc" stroke="#2f8cbc" stroke-width="0.6" stroke-linejoin="round"/><polygon points="9.5,15.9 28.5,5 28.5,31.7 9.5,42.4" fill="#2478ab" stroke="#2478ab" stroke-width="0.6" stroke-linejoin="round"/><polygon points="16.4,39.3 29.7,48.1 37.3,44.3 24,36" fill="#3a9cc8" stroke="#3a9cc8" stroke-width="0.6" stroke-linejoin="round"/><polygon points="16.4,39.3 29.7,48.1 29.7,49.3 16.4,40.6" fill="#2478ab" stroke="#2478ab" stroke-width="0.6" stroke-linejoin="round"/><polygon points="22,33 28,36 28,43 22,40" fill="#2b84b4" stroke="#2b84b4" stroke-width="0.6" stroke-linejoin="round"/><polygon points="15.2,7 17.4,6 44.6,19 42.6,19.7" fill="#3a9cc8" stroke="#3a9cc8" stroke-width="0.6" stroke-linejoin="round"/><polygon points="42.6,19.7 44.6,19 44.6,45 42.6,46" fill="#173f6c" stroke="#173f6c" stroke-width="0.6" stroke-linejoin="round"/><polygon points="15.2,7 42.6,19.7 42.6,46 15.2,31.7" fill="#2a82b4" stroke="#2a82b4" stroke-width="0.6" stroke-linejoin="round"/><polygon points="17.4,10.4 40.6,21.2 40.6,42.4 17.4,30.4" fill="#b9b8bd" stroke="#b9b8bd" stroke-width="0.6" stroke-linejoin="round"/></g><g transform="translate(164.6,1005.3)"><path d="M0.43,18Q0.3,16 2.12,15.17L21.58,6.23Q23.4,5.4 25.25,6.16L42.75,13.34Q44.6,14.1 44.6,16.1L44.6,27.6Q44.6,29.6 42.89,30.64L21.11,43.96Q19.4,45 17.61,44.11L3.39,37.09Q1.6,36.2 1.47,34.2Z" fill="#2a7fb0"/><path d="M0.14,17.8Q0,15.8 1.84,16.59L20.26,24.51Q22.1,25.3 21.83,27.28L19.67,43.42Q19.4,45.4 17.61,44.51L3.19,37.29Q1.4,36.4 1.26,34.4Z" fill="url(#gl)"/><path d="M21.83,27.28Q22.1,25.3 23.89,24.41L43.11,14.79Q44.9,13.9 44.9,15.9L44.9,27.8Q44.9,29.8 43.19,30.84L21.11,44.36Q19.4,45.4 19.67,43.42Z" fill="url(#gd)"/><path d="M1.84,16.59Q0,15.8 1.82,14.97L21.58,5.93Q23.4,5.1 25.25,5.86L43.05,13.14Q44.9,13.9 43.11,14.79L23.89,24.41Q22.1,25.3 20.26,24.51Z" fill="#2f8dbd"/><polygon points="10.6,14 23.6,8.2 35.4,13.2 22.4,19.8" fill="#dfe9ef" stroke="#dfe9ef" stroke-width="0.6" stroke-linejoin="round"/><path d="M11.4,10.1 C14,4 17,0.6 19.6,0 L29.7,7.6 C27,9 25.6,13 24.6,19 Z" fill="#f4f6f8"/><path d="M-3,32.4 L2,32.4" stroke="#2a7fb0" stroke-width="1.4"/></g><g transform="translate(255,949)"><ellipse cx="28" cy="41.6" rx="10" ry="5.6" fill="#2d8abb"/><path d="M18,36.6 L18,41.6 A10,5.6 0 0 0 38,41.6 L38,36.6 Z" fill="#2d8abb"/><ellipse cx="28" cy="37.6" rx="8.6" ry="4.6" fill="#3b9ecb"/><path d="M21.6,22 L21.6,37 A6.6,3.6 0 0 0 36.4,37 L36.4,22 Z" fill="url(#gdm)"/><polygon points="0,19 31.7,0 43.7,5.7 12,24.6" fill="#2f8dbd" stroke="#2f8dbd" stroke-width="0.6" stroke-linejoin="round"/><polygon points="0,19 12,24.6 12,27 0,21.4" fill="#2478ab" stroke="#2478ab" stroke-width="0.6" stroke-linejoin="round"/><polygon points="3.4,22.8 14.4,28 14.4,37 3.4,31.8" fill="#3a9ccb" stroke="#3a9ccb" stroke-width="0.6" stroke-linejoin="round"/><polygon points="14.4,28 43.7,10.6 43.7,19.4 14.4,37" fill="#2f8ec0" stroke="#2f8ec0" stroke-width="0.6" stroke-linejoin="round"/><polygon points="12,24.6 43.7,5.7 43.7,10.6 12,29.4" fill="#2679ad" stroke="#2679ad" stroke-width="0.6" stroke-linejoin="round"/></g><g transform="translate(262.7,1009)"><path d="M0,9 C0,-3 36,-3 36,9 L36,20 C36,31 28,40 18,40 C8,40 0,31 0,20 Z" fill="url(#gdm)"/><ellipse cx="18" cy="8.6" rx="18" ry="8.4" fill="#3a9bc8"/><path d="M0,17.6 C4,26 32,26 36,17.6" fill="none" stroke="#4aa8d0" stroke-width="1" opacity="0.8"/><path d="M3,24 C8,31 28,31 33,24" fill="none" stroke="#2478ab" stroke-width="0.8" opacity="0.6"/></g><g transform="translate(363,954.2)"><path d="M-3.05,1.71Q0,0 3.05,1.71L21.15,11.89Q24.2,13.6 24.2,17.1L24.2,20.7Q24.2,24.2 21.15,25.91L3.05,36.09Q0,37.8 -3.05,36.09L-21.15,25.91Q-24.2,24.2 -24.2,20.7L-24.2,17.1Q-24.2,13.6 -21.15,11.89Z" fill="url(#gs)"/><path d="M-3.05,1.71Q0,0 3.05,1.71L21.15,11.89Q24.2,13.6 21.15,15.31L3.05,25.49Q0,27.2 -3.05,25.49L-21.15,15.31Q-24.2,13.6 -21.15,11.89Z" fill="url(#gt)" stroke="#56b0d2" stroke-width="0.6" stroke-opacity="0.55"/><path d="M-10.5,13.2 L-6,9.6 C-3,7 5,6.6 9.5,9.2 C13,11.2 11.5,14.6 8,16 C4.5,17.4 -1,17.8 -3,16.4 C-5.5,14.6 -7.5,13 -12.5,15.4 Z" fill="#f7fbfd"/><ellipse cx="5" cy="12" rx="3.6" ry="1.6" fill="#f4c9c9" opacity="0.8"/><text transform="translate(8.4,30.2) skewY(-29.5) skewX(-14)" font-size="5" font-weight="bold" fill="#e4f2f8">VoIP</text></g><g transform="translate(336.4,1009)"><path d="M0,20.5Q0,18.6 3.9,15.48L16.1,5.72Q20,2.6 24.3,5.15L47.7,19.05Q52,21.6 52,23.3L52,23.3Q52,25 47.83,27.76L34.17,36.84Q30,39.6 25.66,37.11L4.34,24.89Q0,22.4 0,20.5Z" fill="#2478ab"/><path d="M4.98,20.75Q0,17.4 4.69,13.65L15.31,5.15Q20,1.4 25.16,4.46L46.84,17.34Q52,20.4 47.27,24.1L34.73,33.9Q30,37.6 25.02,34.25Z" fill="#2f8dbd"/><path d="M4.52,17.35Q1.6,15.6 4.18,13.38L16.42,2.82Q19,0.6 21.98,2.24L24.02,3.36Q27,5 24.45,7.25L12.15,18.15Q9.6,20.4 6.68,18.65Z" fill="#3a9ccb"/><path d="M8.6,17.6 L21,8.6" stroke="#1d5f92" stroke-width="1.4"/><path d="M20.76,27.26Q18.6,26 20.67,24.6L34.93,15Q37,13.6 39.19,14.81L47.41,19.39Q49.6,20.6 47.57,22.06L33.63,32.14Q31.6,33.6 29.44,32.34Z" fill="#f2f7fa"/><polygon points="27.4,22.6 37.4,16 45.6,20.6 35.6,27.4" fill="#1f6da6" stroke="#1f6da6" stroke-width="0.6" stroke-linejoin="round"/><ellipse cx="25.6" cy="28.6" rx="3.2" ry="2.2" fill="#f7fafc" stroke="#2a7fb0" stroke-width="0.9"/><path d="M21,14.6 L26,17.4 M23,13 L28,15.8" stroke="#bfe1f0" stroke-width="0.8"/></g></g><g transform="translate(853.4,0)"><g transform="translate(88,950.4)"><path d="M-2.29,1.24Q0,0 2.29,1.24L14.91,8.06Q17.2,9.3 17.2,11.9L17.2,14.7Q17.2,17.3 14.91,18.54L2.29,25.36Q0,26.6 -2.29,25.36L-14.91,18.54Q-17.2,17.3 -17.2,14.7L-17.2,11.9Q-17.2,9.3 -14.91,8.06Z" fill="url(#gs)"/><path d="M-2.29,1.24Q0,0 2.29,1.24L14.91,8.06Q17.2,9.3 14.91,10.54L2.29,17.36Q0,18.6 -2.29,17.36L-14.91,10.54Q-17.2,9.3 -14.91,8.06Z" fill="url(#gt)" stroke="#56b0d2" stroke-width="0.6" stroke-opacity="0.55"/><polygon points="-0.4,7.4 1.6,12.6 -2.4,12.6" fill="#f2f9fc"/><g fill="none" stroke="#e4f2f8" stroke-width="0.9" stroke-linecap="round"><path d="M-3,5.2 C-4.4,7 -4.4,9.4 -3,11.2"/><path d="M-5,4.4 C-6.6,6.6 -6.6,9.8 -5,12"/><path d="M2.2,5.2 C3.6,7 3.6,9.4 2.2,11.2"/><path d="M4.2,4.4 C5.8,6.6 5.8,9.8 4.2,12"/></g><text transform="translate(-14.4,17.2) skewY(29)" font-size="4.4" font-weight="bold" fill="#eef7fb" textLength="10.5" lengthAdjust="spacingAndGlyphs">WLAN</text></g><g transform="translate(88.7,987.4)" fill="none" stroke="#2a81b1" stroke-width="5.2"><path d="M-8.8,-1.6 Q-1.6,6.4 5.6,-2.8"/><path d="M-12.9,4.1 Q-1,18.1 11.7,2.9"/><path d="M-16.5,9.6 Q-0.6,29.3 16.3,8.2"/></g><g transform="translate(27.5,1009.5)"><polygon points="0.2,27 17,17.6 37,26 20.4,39" fill="#dfe3e6" stroke="#b4bbc0" stroke-width="0.6"/><polygon points="8.8,24.6 18,20 33.6,27 24.6,32.6" fill="#3c3a40" stroke="#3c3a40" stroke-width="0.6" stroke-linejoin="round"/><polygon points="8.8,30.8 13.2,28.4 17,30.2 12.6,33" fill="#9aa3ab" stroke="#9aa3ab" stroke-width="0.6" stroke-linejoin="round"/><polygon points="18.4,0 40.2,8.8 37,26.2 17,17.6" fill="#cfe7f2" stroke="#cfe7f2" stroke-width="0.6" stroke-linejoin="round"/><polygon points="19.4,1.6 39,9.6 36.2,24.6 18.2,17" fill="url(#gph2)" stroke="url(#gph2)" stroke-width="0.6" stroke-linejoin="round"/></g><g transform="translate(94,1019)"><path d="M4.55,21.87Q0.2,19.4 4.38,16.66L24.42,3.54Q28.6,0.8 33.18,2.81L40.42,5.99Q45,8 40.94,10.92L20.46,25.68Q16.4,28.6 12.05,26.13Z" fill="#8d9399"/><path d="M4.57,20.43Q0.2,18 4.4,15.28L24.4,2.32Q28.6,-0.4 33.2,1.56L40.4,4.64Q45,6.6 40.93,9.5L20.47,24.1Q16.4,27 12.03,24.57Z" fill="url(#gsv)"/><polygon points="7.2,17 28,3 41.4,8.6 19.2,22.4" fill="url(#gph)" stroke="url(#gph)" stroke-width="0.6" stroke-linejoin="round"/><polygon points="6,20 8.6,18.6 13.6,21 11,22.6" fill="#3f4248" stroke="#3f4248" stroke-width="0.6" stroke-linejoin="round"/><path d="M3.6,19.6 L5.6,18.6 M13.4,23.6 L15.6,22.4" stroke="#6a6f76" stroke-width="0.9"/></g><g transform="translate(163.3,948.3)"><polygon points="0,10.8 19.6,0 28.5,5 9.5,15.9" fill="#3a9cc8" stroke="#3a9cc8" stroke-width="0.6" stroke-linejoin="round"/><polygon points="0,10.8 9.5,15.9 9.5,42.4 0,36.7" fill="#2f8cbc" stroke="#2f8cbc" stroke-width="0.6" stroke-linejoin="round"/><polygon points="9.5,15.9 28.5,5 28.5,31.7 9.5,42.4" fill="#2478ab" stroke="#2478ab" stroke-width="0.6" stroke-linejoin="round"/><polygon points="16.4,39.3 29.7,48.1 37.3,44.3 24,36" fill="#3a9cc8" stroke="#3a9cc8" stroke-width="0.6" stroke-linejoin="round"/><polygon points="16.4,39.3 29.7,48.1 29.7,49.3 16.4,40.6" fill="#2478ab" stroke="#2478ab" stroke-width="0.6" stroke-linejoin="round"/><polygon points="22,33 28,36 28,43 22,40" fill="#2b84b4" stroke="#2b84b4" stroke-width="0.6" stroke-linejoin="round"/><polygon points="15.2,7 17.4,6 44.6,19 42.6,19.7" fill="#3a9cc8" stroke="#3a9cc8" stroke-width="0.6" stroke-linejoin="round"/><polygon points="42.6,19.7 44.6,19 44.6,45 42.6,46" fill="#173f6c" stroke="#173f6c" stroke-width="0.6" stroke-linejoin="round"/><polygon points="15.2,7 42.6,19.7 42.6,46 15.2,31.7" fill="#2a82b4" stroke="#2a82b4" stroke-width="0.6" stroke-linejoin="round"/><polygon points="17.4,10.4 40.6,21.2 40.6,42.4 17.4,30.4" fill="#b9b8bd" stroke="#b9b8bd" stroke-width="0.6" stroke-linejoin="round"/></g><g transform="translate(164.6,1005.3)"><path d="M0.43,18Q0.3,16 2.12,15.17L21.58,6.23Q23.4,5.4 25.25,6.16L42.75,13.34Q44.6,14.1 44.6,16.1L44.6,27.6Q44.6,29.6 42.89,30.64L21.11,43.96Q19.4,45 17.61,44.11L3.39,37.09Q1.6,36.2 1.47,34.2Z" fill="#2a7fb0"/><path d="M0.14,17.8Q0,15.8 1.84,16.59L20.26,24.51Q22.1,25.3 21.83,27.28L19.67,43.42Q19.4,45.4 17.61,44.51L3.19,37.29Q1.4,36.4 1.26,34.4Z" fill="url(#gl)"/><path d="M21.83,27.28Q22.1,25.3 23.89,24.41L43.11,14.79Q44.9,13.9 44.9,15.9L44.9,27.8Q44.9,29.8 43.19,30.84L21.11,44.36Q19.4,45.4 19.67,43.42Z" fill="url(#gd)"/><path d="M1.84,16.59Q0,15.8 1.82,14.97L21.58,5.93Q23.4,5.1 25.25,5.86L43.05,13.14Q44.9,13.9 43.11,14.79L23.89,24.41Q22.1,25.3 20.26,24.51Z" fill="#2f8dbd"/><polygon points="10.6,14 23.6,8.2 35.4,13.2 22.4,19.8" fill="#dfe9ef" stroke="#dfe9ef" stroke-width="0.6" stroke-linejoin="round"/><path d="M11.4,10.1 C14,4 17,0.6 19.6,0 L29.7,7.6 C27,9 25.6,13 24.6,19 Z" fill="#f4f6f8"/><path d="M-3,32.4 L2,32.4" stroke="#2a7fb0" stroke-width="1.4"/></g><g transform="translate(255,949)"><ellipse cx="28" cy="41.6" rx="10" ry="5.6" fill="#2d8abb"/><path d="M18,36.6 L18,41.6 A10,5.6 0 0 0 38,41.6 L38,36.6 Z" fill="#2d8abb"/><ellipse cx="28" cy="37.6" rx="8.6" ry="4.6" fill="#3b9ecb"/><path d="M21.6,22 L21.6,37 A6.6,3.6 0 0 0 36.4,37 L36.4,22 Z" fill="url(#gdm)"/><polygon points="0,19 31.7,0 43.7,5.7 12,24.6" fill="#2f8dbd" stroke="#2f8dbd" stroke-width="0.6" stroke-linejoin="round"/><polygon points="0,19 12,24.6 12,27 0,21.4" fill="#2478ab" stroke="#2478ab" stroke-width="0.6" stroke-linejoin="round"/><polygon points="3.4,22.8 14.4,28 14.4,37 3.4,31.8" fill="#3a9ccb" stroke="#3a9ccb" stroke-width="0.6" stroke-linejoin="round"/><polygon points="14.4,28 43.7,10.6 43.7,19.4 14.4,37" fill="#2f8ec0" stroke="#2f8ec0" stroke-width="0.6" stroke-linejoin="round"/><polygon points="12,24.6 43.7,5.7 43.7,10.6 12,29.4" fill="#2679ad" stroke="#2679ad" stroke-width="0.6" stroke-linejoin="round"/></g><g transform="translate(262.7,1009)"><path d="M0,9 C0,-3 36,-3 36,9 L36,20 C36,31 28,40 18,40 C8,40 0,31 0,20 Z" fill="url(#gdm)"/><ellipse cx="18" cy="8.6" rx="18" ry="8.4" fill="#3a9bc8"/><path d="M0,17.6 C4,26 32,26 36,17.6" fill="none" stroke="#4aa8d0" stroke-width="1" opacity="0.8"/><path d="M3,24 C8,31 28,31 33,24" fill="none" stroke="#2478ab" stroke-width="0.8" opacity="0.6"/></g><g transform="translate(363,954.2)"><path d="M-3.05,1.71Q0,0 3.05,1.71L21.15,11.89Q24.2,13.6 24.2,17.1L24.2,20.7Q24.2,24.2 21.15,25.91L3.05,36.09Q0,37.8 -3.05,36.09L-21.15,25.91Q-24.2,24.2 -24.2,20.7L-24.2,17.1Q-24.2,13.6 -21.15,11.89Z" fill="url(#gs)"/><path d="M-3.05,1.71Q0,0 3.05,1.71L21.15,11.89Q24.2,13.6 21.15,15.31L3.05,25.49Q0,27.2 -3.05,25.49L-21.15,15.31Q-24.2,13.6 -21.15,11.89Z" fill="url(#gt)" stroke="#56b0d2" stroke-width="0.6" stroke-opacity="0.55"/><path d="M-10.5,13.2 L-6,9.6 C-3,7 5,6.6 9.5,9.2 C13,11.2 11.5,14.6 8,16 C4.5,17.4 -1,17.8 -3,16.4 C-5.5,14.6 -7.5,13 -12.5,15.4 Z" fill="#f7fbfd"/><ellipse cx="5" cy="12" rx="3.6" ry="1.6" fill="#f4c9c9" opacity="0.8"/><text transform="translate(8.4,30.2) skewY(-29.5) skewX(-14)" font-size="5" font-weight="bold" fill="#e4f2f8">VoIP</text></g><g transform="translate(336.4,1009)"><path d="M0,20.5Q0,18.6 3.9,15.48L16.1,5.72Q20,2.6 24.3,5.15L47.7,19.05Q52,21.6 52,23.3L52,23.3Q52,25 47.83,27.76L34.17,36.84Q30,39.6 25.66,37.11L4.34,24.89Q0,22.4 0,20.5Z" fill="#2478ab"/><path d="M4.98,20.75Q0,17.4 4.69,13.65L15.31,5.15Q20,1.4 25.16,4.46L46.84,17.34Q52,20.4 47.27,24.1L34.73,33.9Q30,37.6 25.02,34.25Z" fill="#2f8dbd"/><path d="M4.52,17.35Q1.6,15.6 4.18,13.38L16.42,2.82Q19,0.6 21.98,2.24L24.02,3.36Q27,5 24.45,7.25L12.15,18.15Q9.6,20.4 6.68,18.65Z" fill="#3a9ccb"/><path d="M8.6,17.6 L21,8.6" stroke="#1d5f92" stroke-width="1.4"/><path d="M20.76,27.26Q18.6,26 20.67,24.6L34.93,15Q37,13.6 39.19,14.81L47.41,19.39Q49.6,20.6 47.57,22.06L33.63,32.14Q31.6,33.6 29.44,32.34Z" fill="#f2f7fa"/><polygon points="27.4,22.6 37.4,16 45.6,20.6 35.6,27.4" fill="#1f6da6" stroke="#1f6da6" stroke-width="0.6" stroke-linejoin="round"/><ellipse cx="25.6" cy="28.6" rx="3.2" ry="2.2" fill="#f7fafc" stroke="#2a7fb0" stroke-width="0.9"/><path d="M21,14.6 L26,17.4 M23,13 L28,15.8" stroke="#bfe1f0" stroke-width="0.8"/></g></g>
</svg>
</body></html>
